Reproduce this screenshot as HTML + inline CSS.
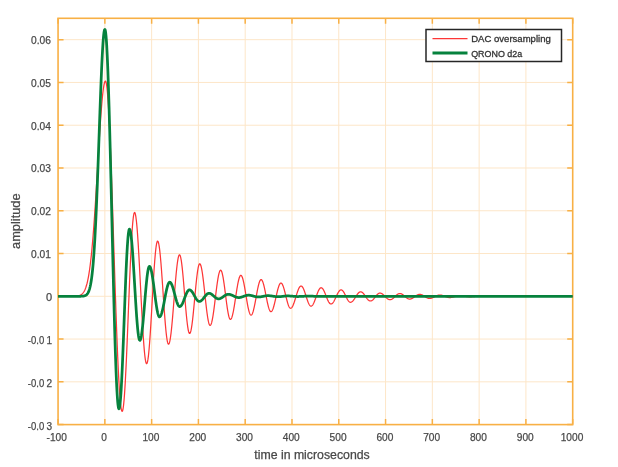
<!DOCTYPE html><html><head><meta charset="utf-8"><style>html,body{margin:0;padding:0;background:#fff;}svg{display:block;will-change:transform;}text{font-family:"Liberation Sans",sans-serif;fill:#404040;}.t text{stroke:#484848;stroke-width:0.25px;fill:#484848;}</style></head><body>
<svg width="618" height="467" viewBox="0 0 618 467">
<rect width="618" height="467" fill="#fff"/>
<path d="M104.85,18.30 V424.60 M151.63,18.30 V424.60 M198.42,18.30 V424.60 M245.20,18.30 V424.60 M291.99,18.30 V424.60 M338.77,18.30 V424.60 M385.56,18.30 V424.60 M432.34,18.30 V424.60 M479.13,18.30 V424.60 M525.91,18.30 V424.60 M58.06,381.83 H572.70 M58.06,339.06 H572.70 M58.06,296.29 H572.70 M58.06,253.53 H572.70 M58.06,210.76 H572.70 M58.06,167.99 H572.70 M58.06,125.22 H572.70 M58.06,82.45 H572.70 M58.06,39.68 H572.70" stroke="#fde6c8" stroke-width="1" fill="none"/>
<path d="M58.06,424.60 V419.10 M58.06,18.30 V23.80 M104.85,424.60 V419.10 M104.85,18.30 V23.80 M151.63,424.60 V419.10 M151.63,18.30 V23.80 M198.42,424.60 V419.10 M198.42,18.30 V23.80 M245.20,424.60 V419.10 M245.20,18.30 V23.80 M291.99,424.60 V419.10 M291.99,18.30 V23.80 M338.77,424.60 V419.10 M338.77,18.30 V23.80 M385.56,424.60 V419.10 M385.56,18.30 V23.80 M432.34,424.60 V419.10 M432.34,18.30 V23.80 M479.13,424.60 V419.10 M479.13,18.30 V23.80 M525.91,424.60 V419.10 M525.91,18.30 V23.80 M572.70,424.60 V419.10 M572.70,18.30 V23.80 M58.06,424.60 H63.56 M572.70,424.60 H567.20 M58.06,381.83 H63.56 M572.70,381.83 H567.20 M58.06,339.06 H63.56 M572.70,339.06 H567.20 M58.06,296.29 H63.56 M572.70,296.29 H567.20 M58.06,253.53 H63.56 M572.70,253.53 H567.20 M58.06,210.76 H63.56 M572.70,210.76 H567.20 M58.06,167.99 H63.56 M572.70,167.99 H567.20 M58.06,125.22 H63.56 M572.70,125.22 H567.20 M58.06,82.45 H63.56 M572.70,82.45 H567.20 M58.06,39.68 H63.56 M572.70,39.68 H567.20" stroke="#f8b045" stroke-width="1.5" fill="none"/>
<rect x="58.06" y="18.30" width="514.64" height="406.30" stroke="#f8b045" stroke-width="1.6" fill="none"/>
<path d="M58.06,296.29 L58.29,296.29 L58.53,296.29 L58.76,296.29 L59.00,296.29 L59.23,296.29 L59.46,296.29 L59.70,296.29 L59.93,296.29 L60.17,296.29 L60.40,296.29 L60.63,296.29 L60.87,296.29 L61.10,296.29 L61.33,296.29 L61.57,296.29 L61.80,296.29 L62.04,296.29 L62.27,296.29 L62.50,296.29 L62.74,296.29 L62.97,296.29 L63.21,296.29 L63.44,296.29 L63.67,296.29 L63.91,296.29 L64.14,296.29 L64.38,296.29 L64.61,296.29 L64.84,296.29 L65.08,296.29 L65.31,296.29 L65.55,296.29 L65.78,296.29 L66.01,296.29 L66.25,296.29 L66.48,296.29 L66.72,296.29 L66.95,296.29 L67.18,296.29 L67.42,296.29 L67.65,296.29 L67.88,296.29 L68.12,296.29 L68.35,296.29 L68.59,296.29 L68.82,296.29 L69.05,296.29 L69.29,296.29 L69.52,296.29 L69.76,296.29 L69.99,296.29 L70.22,296.29 L70.46,296.29 L70.69,296.29 L70.93,296.28 L71.16,296.28 L71.39,296.28 L71.63,296.28 L71.86,296.28 L72.10,296.27 L72.33,296.27 L72.56,296.27 L72.80,296.26 L73.03,296.26 L73.27,296.25 L73.50,296.25 L73.73,296.24 L73.97,296.24 L74.20,296.23 L74.43,296.22 L74.67,296.21 L74.90,296.20 L75.14,296.19 L75.37,296.18 L75.60,296.16 L75.84,296.15 L76.07,296.13 L76.31,296.11 L76.54,296.08 L76.77,296.06 L77.01,296.03 L77.24,296.00 L77.48,295.97 L77.71,295.93 L77.94,295.89 L78.18,295.84 L78.41,295.79 L78.65,295.74 L78.88,295.68 L79.11,295.61 L79.35,295.54 L79.58,295.46 L79.82,295.37 L80.05,295.27 L80.28,295.17 L80.52,295.05 L80.75,294.93 L80.98,294.79 L81.22,294.64 L81.45,294.48 L81.69,294.30 L81.92,294.11 L82.15,293.90 L82.39,293.68 L82.62,293.44 L82.86,293.17 L83.09,292.89 L83.32,292.58 L83.56,292.25 L83.79,291.90 L84.03,291.51 L84.26,291.10 L84.49,290.66 L84.73,290.18 L84.96,289.67 L85.20,289.13 L85.43,288.55 L85.66,287.93 L85.90,287.26 L86.13,286.55 L86.37,285.80 L86.60,285.00 L86.83,284.15 L87.07,283.25 L87.30,282.29 L87.53,281.27 L87.77,280.20 L88.00,279.06 L88.24,277.86 L88.47,276.60 L88.70,275.27 L88.94,273.87 L89.17,272.40 L89.41,270.85 L89.64,269.23 L89.87,267.53 L90.11,265.75 L90.34,263.89 L90.58,261.95 L90.81,259.93 L91.04,257.82 L91.28,255.63 L91.51,253.35 L91.75,250.99 L91.98,248.53 L92.21,245.99 L92.45,243.37 L92.68,240.65 L92.92,237.86 L93.15,234.97 L93.38,232.00 L93.62,228.95 L93.85,225.82 L94.08,222.61 L94.32,219.32 L94.55,215.96 L94.79,212.53 L95.02,209.03 L95.25,205.47 L95.49,201.85 L95.72,198.17 L95.96,194.45 L96.19,190.67 L96.42,186.86 L96.66,183.01 L96.89,179.13 L97.13,175.23 L97.36,171.31 L97.59,167.39 L97.83,163.46 L98.06,159.53 L98.30,155.62 L98.53,151.72 L98.76,147.86 L99.00,144.02 L99.23,140.23 L99.47,136.49 L99.70,132.81 L99.93,129.20 L100.17,125.66 L100.40,122.20 L100.63,118.84 L100.87,115.57 L101.10,112.41 L101.34,109.37 L101.57,106.45 L101.80,103.65 L102.04,101.00 L102.27,98.48 L102.51,96.12 L102.74,93.91 L102.97,91.86 L103.21,89.98 L103.44,88.27 L103.68,86.73 L103.91,85.38 L104.14,84.21 L104.38,83.22 L104.61,82.43 L104.85,81.83 L105.08,81.42 L105.31,81.20 L105.55,81.20 L105.78,81.48 L106.02,82.09 L106.25,83.01 L106.48,84.25 L106.72,85.81 L106.95,87.67 L107.18,89.84 L107.42,92.32 L107.65,95.09 L107.89,98.15 L108.12,101.51 L108.35,105.14 L108.59,109.04 L108.82,113.21 L109.06,117.64 L109.29,122.32 L109.52,127.23 L109.76,132.38 L109.99,137.75 L110.23,143.33 L110.46,149.10 L110.69,155.07 L110.93,161.21 L111.16,167.52 L111.40,173.97 L111.63,180.57 L111.86,187.30 L112.10,194.14 L112.33,201.08 L112.57,208.11 L112.80,215.21 L113.03,222.37 L113.27,229.58 L113.50,236.82 L113.73,244.08 L113.97,251.34 L114.20,258.59 L114.44,265.82 L114.67,273.01 L114.90,280.15 L115.14,287.23 L115.37,294.22 L115.61,301.12 L115.84,307.92 L116.07,314.59 L116.31,321.14 L116.54,327.54 L116.78,333.78 L117.01,339.85 L117.24,345.74 L117.48,351.44 L117.71,356.94 L117.95,362.22 L118.18,367.27 L118.41,372.09 L118.65,376.67 L118.88,381.00 L119.12,385.06 L119.35,388.86 L119.58,392.38 L119.82,395.62 L120.05,398.57 L120.28,401.22 L120.52,403.57 L120.75,405.62 L120.99,407.36 L121.22,408.79 L121.45,409.91 L121.69,410.70 L121.92,411.18 L122.16,411.34 L122.39,411.17 L122.62,410.64 L122.86,409.77 L123.09,408.56 L123.33,407.01 L123.56,405.12 L123.79,402.90 L124.03,400.37 L124.26,397.52 L124.50,394.38 L124.73,390.94 L124.96,387.23 L125.20,383.25 L125.43,379.02 L125.66,374.56 L125.90,369.87 L126.13,364.99 L126.37,359.91 L126.60,354.67 L126.83,349.28 L127.07,343.75 L127.30,338.12 L127.54,332.39 L127.77,326.59 L128.00,320.73 L128.24,314.85 L128.47,308.96 L128.71,303.08 L128.94,297.22 L129.17,291.42 L129.41,285.70 L129.64,280.06 L129.88,274.53 L130.11,269.14 L130.34,263.90 L130.58,258.82 L130.81,253.94 L131.05,249.25 L131.28,244.79 L131.51,240.56 L131.75,236.58 L131.98,232.87 L132.21,229.43 L132.45,226.29 L132.68,223.44 L132.92,220.91 L133.15,218.69 L133.38,216.80 L133.62,215.25 L133.85,214.04 L134.09,213.17 L134.32,212.64 L134.55,212.47 L134.79,212.61 L135.02,213.03 L135.26,213.73 L135.49,214.70 L135.72,215.94 L135.96,217.46 L136.19,219.23 L136.43,221.26 L136.66,223.54 L136.89,226.05 L137.13,228.80 L137.36,231.76 L137.60,234.94 L137.83,238.31 L138.06,241.86 L138.30,245.59 L138.53,249.47 L138.76,253.50 L139.00,257.65 L139.23,261.92 L139.47,266.28 L139.70,270.73 L139.93,275.24 L140.17,279.79 L140.40,284.38 L140.64,288.98 L140.87,293.58 L141.10,298.16 L141.34,302.70 L141.57,307.18 L141.81,311.60 L142.04,315.92 L142.27,320.15 L142.51,324.25 L142.74,328.22 L142.98,332.05 L143.21,335.71 L143.44,339.19 L143.68,342.48 L143.91,345.57 L144.15,348.45 L144.38,351.11 L144.61,353.53 L144.85,355.71 L145.08,357.63 L145.31,359.30 L145.55,360.71 L145.78,361.85 L146.02,362.71 L146.25,363.30 L146.48,363.60 L146.72,363.63 L146.95,363.39 L147.19,362.87 L147.42,362.08 L147.65,361.02 L147.89,359.71 L148.12,358.13 L148.36,356.31 L148.59,354.25 L148.82,351.95 L149.06,349.44 L149.29,346.71 L149.53,343.79 L149.76,340.68 L149.99,337.40 L150.23,333.96 L150.46,330.39 L150.70,326.68 L150.93,322.87 L151.16,318.97 L151.40,314.99 L151.63,310.96 L151.86,306.89 L152.10,302.80 L152.33,298.71 L152.57,294.63 L152.80,290.59 L153.03,286.60 L153.27,282.68 L153.50,278.85 L153.74,275.12 L153.97,271.52 L154.20,268.05 L154.44,264.74 L154.67,261.60 L154.91,258.64 L155.14,255.87 L155.37,253.31 L155.61,250.97 L155.84,248.86 L156.08,246.99 L156.31,245.37 L156.54,244.00 L156.78,242.89 L157.01,242.05 L157.25,241.47 L157.48,241.17 L157.71,241.14 L157.95,241.35 L158.18,241.80 L158.41,242.47 L158.65,243.37 L158.88,244.50 L159.12,245.85 L159.35,247.40 L159.58,249.17 L159.82,251.13 L160.05,253.28 L160.29,255.61 L160.52,258.11 L160.75,260.76 L160.99,263.56 L161.22,266.49 L161.46,269.54 L161.69,272.70 L161.92,275.94 L162.16,279.27 L162.39,282.65 L162.63,286.08 L162.86,289.53 L163.09,293.01 L163.33,296.48 L163.56,299.93 L163.80,303.35 L164.03,306.72 L164.26,310.03 L164.50,313.26 L164.73,316.40 L164.96,319.42 L165.20,322.33 L165.43,325.10 L165.67,327.72 L165.90,330.19 L166.13,332.48 L166.37,334.60 L166.60,336.52 L166.84,338.24 L167.07,339.76 L167.30,341.06 L167.54,342.14 L167.77,343.00 L168.01,343.63 L168.24,344.03 L168.47,344.19 L168.71,344.13 L168.94,343.87 L169.18,343.41 L169.41,342.76 L169.64,341.91 L169.88,340.88 L170.11,339.66 L170.35,338.26 L170.58,336.68 L170.81,334.94 L171.05,333.05 L171.28,331.00 L171.51,328.81 L171.75,326.49 L171.98,324.05 L172.22,321.50 L172.45,318.86 L172.68,316.12 L172.92,313.31 L173.15,310.44 L173.39,307.52 L173.62,304.57 L173.85,301.59 L174.09,298.61 L174.32,295.62 L174.56,292.66 L174.79,289.72 L175.02,286.83 L175.26,284.00 L175.49,281.23 L175.73,278.55 L175.96,275.96 L176.19,273.47 L176.43,271.11 L176.66,268.86 L176.90,266.76 L177.13,264.80 L177.36,263.00 L177.60,261.36 L177.83,259.89 L178.06,258.59 L178.30,257.48 L178.53,256.56 L178.77,255.83 L179.00,255.29 L179.23,254.95 L179.47,254.81 L179.70,254.88 L179.94,255.15 L180.17,255.62 L180.40,256.30 L180.64,257.18 L180.87,258.26 L181.11,259.52 L181.34,260.97 L181.57,262.60 L181.81,264.39 L182.04,266.33 L182.28,268.43 L182.51,270.66 L182.74,273.02 L182.98,275.48 L183.21,278.05 L183.45,280.70 L183.68,283.42 L183.91,286.20 L184.15,289.02 L184.38,291.87 L184.61,294.73 L184.85,297.59 L185.08,300.42 L185.32,303.23 L185.55,305.99 L185.78,308.68 L186.02,311.30 L186.25,313.83 L186.49,316.25 L186.72,318.56 L186.95,320.74 L187.19,322.78 L187.42,324.66 L187.66,326.39 L187.89,327.94 L188.12,329.32 L188.36,330.51 L188.59,331.51 L188.83,332.31 L189.06,332.91 L189.29,333.30 L189.53,333.49 L189.76,333.47 L189.99,333.27 L190.23,332.88 L190.46,332.32 L190.70,331.57 L190.93,330.65 L191.16,329.56 L191.40,328.31 L191.63,326.91 L191.87,325.35 L192.10,323.65 L192.33,321.82 L192.57,319.87 L192.80,317.80 L193.04,315.63 L193.27,313.38 L193.50,311.04 L193.74,308.64 L193.97,306.19 L194.21,303.70 L194.44,301.18 L194.67,298.65 L194.91,296.11 L195.14,293.60 L195.38,291.10 L195.61,288.65 L195.84,286.25 L196.08,283.92 L196.31,281.66 L196.54,279.49 L196.78,277.43 L197.01,275.47 L197.25,273.64 L197.48,271.95 L197.71,270.39 L197.95,268.98 L198.18,267.73 L198.42,266.64 L198.65,265.72 L198.88,264.98 L199.12,264.41 L199.35,264.03 L199.59,263.82 L199.82,263.80 L200.05,263.94 L200.29,264.23 L200.52,264.68 L200.76,265.27 L200.99,266.01 L201.22,266.89 L201.46,267.92 L201.69,269.07 L201.93,270.35 L202.16,271.76 L202.39,273.28 L202.63,274.90 L202.86,276.63 L203.09,278.44 L203.33,280.33 L203.56,282.30 L203.80,284.33 L204.03,286.40 L204.26,288.52 L204.50,290.67 L204.73,292.84 L204.97,295.02 L205.20,297.20 L205.43,299.36 L205.67,301.50 L205.90,303.60 L206.14,305.66 L206.37,307.66 L206.60,309.60 L206.84,311.46 L207.07,313.24 L207.31,314.93 L207.54,316.51 L207.77,317.99 L208.01,319.34 L208.24,320.57 L208.48,321.68 L208.71,322.64 L208.94,323.47 L209.18,324.15 L209.41,324.69 L209.64,325.07 L209.88,325.30 L210.11,325.38 L210.35,325.31 L210.58,325.11 L210.81,324.77 L211.05,324.31 L211.28,323.71 L211.52,322.99 L211.75,322.15 L211.98,321.19 L212.22,320.11 L212.45,318.92 L212.69,317.64 L212.92,316.25 L213.15,314.78 L213.39,313.22 L213.62,311.58 L213.86,309.88 L214.09,308.13 L214.32,306.32 L214.56,304.47 L214.79,302.58 L215.03,300.68 L215.26,298.75 L215.49,296.83 L215.73,294.91 L215.96,293.00 L216.19,291.12 L216.43,289.27 L216.66,287.46 L216.90,285.70 L217.13,284.00 L217.36,282.37 L217.60,280.81 L217.83,279.33 L218.07,277.95 L218.30,276.66 L218.53,275.47 L218.77,274.40 L219.00,273.43 L219.24,272.59 L219.47,271.87 L219.70,271.27 L219.94,270.81 L220.17,270.47 L220.41,270.27 L220.64,270.21 L220.87,270.28 L221.11,270.48 L221.34,270.83 L221.58,271.31 L221.81,271.92 L222.04,272.66 L222.28,273.53 L222.51,274.52 L222.74,275.62 L222.98,276.83 L223.21,278.14 L223.45,279.55 L223.68,281.04 L223.91,282.61 L224.15,284.25 L224.38,285.94 L224.62,287.69 L224.85,289.48 L225.08,291.30 L225.32,293.14 L225.55,294.98 L225.79,296.83 L226.02,298.66 L226.25,300.48 L226.49,302.26 L226.72,303.99 L226.96,305.68 L227.19,307.31 L227.42,308.86 L227.66,310.34 L227.89,311.72 L228.13,313.02 L228.36,314.20 L228.59,315.28 L228.83,316.25 L229.06,317.09 L229.29,317.81 L229.53,318.39 L229.76,318.85 L230.00,319.16 L230.23,319.35 L230.46,319.39 L230.70,319.31 L230.93,319.13 L231.17,318.83 L231.40,318.43 L231.63,317.93 L231.87,317.32 L232.10,316.62 L232.34,315.82 L232.57,314.92 L232.80,313.95 L233.04,312.88 L233.27,311.75 L233.51,310.54 L233.74,309.26 L233.97,307.93 L234.21,306.54 L234.44,305.11 L234.68,303.64 L234.91,302.14 L235.14,300.61 L235.38,299.07 L235.61,297.52 L235.84,295.97 L236.08,294.42 L236.31,292.90 L236.55,291.39 L236.78,289.91 L237.01,288.47 L237.25,287.08 L237.48,285.73 L237.72,284.44 L237.95,283.22 L238.18,282.07 L238.42,280.99 L238.65,279.99 L238.89,279.08 L239.12,278.26 L239.35,277.54 L239.59,276.91 L239.82,276.39 L240.06,275.97 L240.29,275.65 L240.52,275.45 L240.76,275.35 L240.99,275.36 L241.23,275.47 L241.46,275.69 L241.69,276.00 L241.93,276.42 L242.16,276.94 L242.39,277.54 L242.63,278.25 L242.86,279.04 L243.10,279.91 L243.33,280.86 L243.56,281.89 L243.80,282.99 L244.03,284.15 L244.27,285.36 L244.50,286.63 L244.73,287.95 L244.97,289.30 L245.20,290.68 L245.44,292.09 L245.67,293.51 L245.90,294.94 L246.14,296.37 L246.37,297.80 L246.61,299.21 L246.84,300.60 L247.07,301.97 L247.31,303.30 L247.54,304.58 L247.78,305.82 L248.01,307.01 L248.24,308.13 L248.48,309.19 L248.71,310.17 L248.94,311.08 L249.18,311.90 L249.41,312.64 L249.65,313.28 L249.88,313.84 L250.11,314.29 L250.35,314.65 L250.58,314.91 L250.82,315.06 L251.05,315.11 L251.28,315.07 L251.52,314.92 L251.75,314.69 L251.99,314.36 L252.22,313.94 L252.45,313.43 L252.69,312.84 L252.92,312.17 L253.16,311.41 L253.39,310.58 L253.62,309.68 L253.86,308.72 L254.09,307.69 L254.32,306.61 L254.56,305.48 L254.79,304.31 L255.03,303.09 L255.26,301.85 L255.49,300.59 L255.73,299.31 L255.96,298.01 L256.20,296.72 L256.43,295.42 L256.66,294.14 L256.90,292.87 L257.13,291.63 L257.37,290.42 L257.60,289.25 L257.83,288.12 L258.07,287.04 L258.30,286.01 L258.54,285.04 L258.77,284.15 L259.00,283.32 L259.24,282.56 L259.47,281.89 L259.71,281.29 L259.94,280.79 L260.17,280.37 L260.41,280.04 L260.64,279.80 L260.87,279.66 L261.11,279.62 L261.34,279.66 L261.58,279.79 L261.81,280.02 L262.04,280.33 L262.28,280.72 L262.51,281.20 L262.75,281.76 L262.98,282.40 L263.21,283.11 L263.45,283.90 L263.68,284.74 L263.92,285.65 L264.15,286.62 L264.38,287.63 L264.62,288.69 L264.85,289.79 L265.09,290.93 L265.32,292.08 L265.55,293.26 L265.79,294.45 L266.02,295.65 L266.26,296.85 L266.49,298.04 L266.72,299.22 L266.96,300.38 L267.19,301.51 L267.42,302.61 L267.66,303.67 L267.89,304.69 L268.13,305.65 L268.36,306.56 L268.59,307.41 L268.83,308.19 L269.06,308.90 L269.30,309.54 L269.53,310.10 L269.76,310.58 L270.00,310.98 L270.23,311.29 L270.47,311.51 L270.70,311.65 L270.93,311.69 L271.17,311.65 L271.40,311.54 L271.64,311.35 L271.87,311.08 L272.10,310.74 L272.34,310.32 L272.57,309.84 L272.81,309.29 L273.04,308.68 L273.27,308.00 L273.51,307.27 L273.74,306.48 L273.97,305.65 L274.21,304.77 L274.44,303.85 L274.68,302.90 L274.91,301.91 L275.14,300.90 L275.38,299.87 L275.61,298.83 L275.85,297.78 L276.08,296.73 L276.31,295.69 L276.55,294.65 L276.78,293.62 L277.02,292.62 L277.25,291.64 L277.48,290.69 L277.72,289.78 L277.95,288.91 L278.19,288.08 L278.42,287.31 L278.65,286.59 L278.89,285.92 L279.12,285.32 L279.36,284.78 L279.59,284.32 L279.82,283.92 L280.06,283.59 L280.29,283.34 L280.52,283.16 L280.76,283.06 L280.99,283.04 L281.23,283.09 L281.46,283.21 L281.69,283.41 L281.93,283.68 L282.16,284.02 L282.40,284.42 L282.63,284.89 L282.86,285.42 L283.10,286.02 L283.33,286.66 L283.57,287.36 L283.80,288.11 L284.03,288.91 L284.27,289.74 L284.50,290.60 L284.74,291.50 L284.97,292.42 L285.20,293.36 L285.44,294.31 L285.67,295.27 L285.91,296.23 L286.14,297.19 L286.37,298.14 L286.61,299.07 L286.84,299.99 L287.07,300.88 L287.31,301.74 L287.54,302.56 L287.78,303.35 L288.01,304.09 L288.24,304.78 L288.48,305.41 L288.71,305.99 L288.95,306.51 L289.18,306.97 L289.41,307.36 L289.65,307.69 L289.88,307.94 L290.12,308.12 L290.35,308.23 L290.58,308.27 L290.82,308.24 L291.05,308.16 L291.29,308.02 L291.52,307.84 L291.75,307.59 L291.99,307.30 L292.22,306.96 L292.46,306.57 L292.69,306.13 L292.92,305.65 L293.16,305.12 L293.39,304.56 L293.62,303.96 L293.86,303.33 L294.09,302.66 L294.33,301.97 L294.56,301.26 L294.79,300.53 L295.03,299.78 L295.26,299.01 L295.50,298.24 L295.73,297.46 L295.96,296.68 L296.20,295.91 L296.43,295.13 L296.67,294.37 L296.90,293.63 L297.13,292.89 L297.37,292.19 L297.60,291.50 L297.84,290.84 L298.07,290.22 L298.30,289.62 L298.54,289.07 L298.77,288.55 L299.01,288.08 L299.24,287.65 L299.47,287.27 L299.71,286.94 L299.94,286.65 L300.17,286.42 L300.41,286.24 L300.64,286.12 L300.88,286.05 L301.11,286.03 L301.34,286.07 L301.58,286.16 L301.81,286.31 L302.05,286.51 L302.28,286.76 L302.51,287.06 L302.75,287.41 L302.98,287.81 L303.22,288.26 L303.45,288.74 L303.68,289.27 L303.92,289.83 L304.15,290.43 L304.39,291.06 L304.62,291.71 L304.85,292.39 L305.09,293.09 L305.32,293.80 L305.56,294.53 L305.79,295.27 L306.02,296.01 L306.26,296.75 L306.49,297.48 L306.72,298.21 L306.96,298.93 L307.19,299.63 L307.43,300.32 L307.66,300.98 L307.89,301.61 L308.13,302.21 L308.36,302.78 L308.60,303.32 L308.83,303.81 L309.06,304.26 L309.30,304.67 L309.53,305.03 L309.77,305.35 L310.00,305.61 L310.23,305.82 L310.47,305.97 L310.70,306.08 L310.94,306.13 L311.17,306.12 L311.40,306.07 L311.64,305.97 L311.87,305.82 L312.11,305.62 L312.34,305.38 L312.57,305.09 L312.81,304.76 L313.04,304.39 L313.27,303.98 L313.51,303.53 L313.74,303.05 L313.98,302.53 L314.21,301.99 L314.44,301.42 L314.68,300.82 L314.91,300.21 L315.15,299.57 L315.38,298.93 L315.61,298.27 L315.85,297.60 L316.08,296.94 L316.32,296.27 L316.55,295.60 L316.78,294.95 L317.02,294.30 L317.25,293.67 L317.49,293.05 L317.72,292.45 L317.95,291.88 L318.19,291.34 L318.42,290.82 L318.65,290.34 L318.89,289.89 L319.12,289.48 L319.36,289.11 L319.59,288.78 L319.82,288.49 L320.06,288.25 L320.29,288.05 L320.53,287.90 L320.76,287.80 L320.99,287.75 L321.23,287.74 L321.46,287.79 L321.70,287.87 L321.93,288.00 L322.16,288.18 L322.40,288.39 L322.63,288.65 L322.87,288.95 L323.10,289.29 L323.33,289.67 L323.57,290.08 L323.80,290.52 L324.04,290.99 L324.27,291.49 L324.50,292.02 L324.74,292.56 L324.97,293.13 L325.20,293.71 L325.44,294.30 L325.67,294.90 L325.91,295.50 L326.14,296.11 L326.37,296.72 L326.61,297.32 L326.84,297.91 L327.08,298.49 L327.31,299.06 L327.54,299.61 L327.78,300.14 L328.01,300.64 L328.25,301.12 L328.48,301.57 L328.71,301.99 L328.95,302.37 L329.18,302.72 L329.42,303.02 L329.65,303.29 L329.88,303.52 L330.12,303.70 L330.35,303.84 L330.59,303.93 L330.82,303.98 L331.05,303.99 L331.29,303.96 L331.52,303.89 L331.75,303.78 L331.99,303.64 L332.22,303.46 L332.46,303.25 L332.69,303.00 L332.92,302.73 L333.16,302.42 L333.39,302.09 L333.63,301.72 L333.86,301.34 L334.09,300.93 L334.33,300.49 L334.56,300.04 L334.80,299.58 L335.03,299.10 L335.26,298.61 L335.50,298.11 L335.73,297.60 L335.97,297.09 L336.20,296.58 L336.43,296.07 L336.67,295.57 L336.90,295.07 L337.14,294.58 L337.37,294.11 L337.60,293.65 L337.84,293.20 L338.07,292.78 L338.30,292.38 L338.54,292.00 L338.77,291.65 L339.01,291.32 L339.24,291.03 L339.47,290.77 L339.71,290.53 L339.94,290.34 L340.18,290.17 L340.41,290.05 L340.64,289.95 L340.88,289.90 L341.11,289.88 L341.35,289.90 L341.58,289.96 L341.81,290.05 L342.05,290.18 L342.28,290.35 L342.52,290.56 L342.75,290.79 L342.98,291.06 L343.22,291.37 L343.45,291.70 L343.69,292.05 L343.92,292.44 L344.15,292.84 L344.39,293.27 L344.62,293.71 L344.85,294.16 L345.09,294.63 L345.32,295.11 L345.56,295.59 L345.79,296.08 L346.02,296.57 L346.26,297.05 L346.49,297.53 L346.73,298.00 L346.96,298.45 L347.19,298.90 L347.43,299.32 L347.66,299.73 L347.90,300.11 L348.13,300.47 L348.36,300.80 L348.60,301.10 L348.83,301.37 L349.07,301.61 L349.30,301.81 L349.53,301.98 L349.77,302.11 L350.00,302.21 L350.24,302.26 L350.47,302.28 L350.70,302.27 L350.94,302.23 L351.17,302.16 L351.40,302.06 L351.64,301.94 L351.87,301.80 L352.11,301.62 L352.34,301.43 L352.57,301.21 L352.81,300.97 L353.04,300.71 L353.28,300.43 L353.51,300.13 L353.74,299.81 L353.98,299.49 L354.21,299.14 L354.45,298.79 L354.68,298.43 L354.91,298.06 L355.15,297.69 L355.38,297.31 L355.62,296.93 L355.85,296.55 L356.08,296.17 L356.32,295.80 L356.55,295.44 L356.79,295.08 L357.02,294.74 L357.25,294.40 L357.49,294.08 L357.72,293.78 L357.95,293.49 L358.19,293.22 L358.42,292.97 L358.66,292.74 L358.89,292.54 L359.12,292.36 L359.36,292.20 L359.59,292.07 L359.83,291.96 L360.06,291.88 L360.29,291.83 L360.53,291.81 L360.76,291.81 L361.00,291.84 L361.23,291.89 L361.46,291.97 L361.70,292.08 L361.93,292.21 L362.17,292.36 L362.40,292.53 L362.63,292.73 L362.87,292.95 L363.10,293.19 L363.34,293.44 L363.57,293.72 L363.80,294.00 L364.04,294.31 L364.27,294.62 L364.50,294.94 L364.74,295.27 L364.97,295.61 L365.21,295.95 L365.44,296.30 L365.67,296.64 L365.91,296.99 L366.14,297.33 L366.38,297.66 L366.61,297.99 L366.84,298.31 L367.08,298.62 L367.31,298.92 L367.55,299.20 L367.78,299.46 L368.01,299.71 L368.25,299.94 L368.48,300.15 L368.72,300.34 L368.95,300.51 L369.18,300.65 L369.42,300.77 L369.65,300.87 L369.89,300.94 L370.12,300.98 L370.35,301.00 L370.59,300.99 L370.82,300.96 L371.05,300.91 L371.29,300.83 L371.52,300.73 L371.76,300.61 L371.99,300.47 L372.22,300.31 L372.46,300.13 L372.69,299.93 L372.93,299.71 L373.16,299.48 L373.39,299.23 L373.63,298.97 L373.86,298.70 L374.10,298.42 L374.33,298.13 L374.56,297.83 L374.80,297.53 L375.03,297.23 L375.27,296.92 L375.50,296.62 L375.73,296.32 L375.97,296.02 L376.20,295.73 L376.44,295.45 L376.67,295.17 L376.90,294.91 L377.14,294.66 L377.37,294.42 L377.60,294.20 L377.84,294.00 L378.07,293.81 L378.31,293.65 L378.54,293.50 L378.77,293.38 L379.01,293.27 L379.24,293.19 L379.48,293.13 L379.71,293.10 L379.94,293.09 L380.18,293.10 L380.41,293.12 L380.65,293.17 L380.88,293.23 L381.11,293.30 L381.35,293.40 L381.58,293.51 L381.82,293.63 L382.05,293.77 L382.28,293.93 L382.52,294.09 L382.75,294.27 L382.98,294.46 L383.22,294.66 L383.45,294.87 L383.69,295.09 L383.92,295.31 L384.15,295.54 L384.39,295.78 L384.62,296.02 L384.86,296.26 L385.09,296.50 L385.32,296.74 L385.56,296.98 L385.79,297.21 L386.03,297.44 L386.26,297.67 L386.49,297.89 L386.73,298.10 L386.96,298.30 L387.20,298.50 L387.43,298.68 L387.66,298.85 L387.90,299.00 L388.13,299.14 L388.37,299.27 L388.60,299.38 L388.83,299.48 L389.07,299.56 L389.30,299.63 L389.53,299.67 L389.77,299.70 L390.00,299.72 L390.24,299.71 L390.47,299.69 L390.70,299.65 L390.94,299.59 L391.17,299.52 L391.41,299.43 L391.64,299.32 L391.87,299.20 L392.11,299.06 L392.34,298.91 L392.58,298.75 L392.81,298.57 L393.04,298.39 L393.28,298.19 L393.51,297.99 L393.75,297.78 L393.98,297.56 L394.21,297.33 L394.45,297.10 L394.68,296.87 L394.92,296.64 L395.15,296.41 L395.38,296.17 L395.62,295.95 L395.85,295.72 L396.08,295.50 L396.32,295.29 L396.55,295.08 L396.79,294.88 L397.02,294.69 L397.25,294.52 L397.49,294.35 L397.72,294.20 L397.96,294.06 L398.19,293.93 L398.42,293.82 L398.66,293.73 L398.89,293.65 L399.13,293.59 L399.36,293.55 L399.59,293.52 L399.83,293.51 L400.06,293.52 L400.30,293.55 L400.53,293.58 L400.76,293.64 L401.00,293.71 L401.23,293.79 L401.47,293.89 L401.70,294.00 L401.93,294.12 L402.17,294.26 L402.40,294.40 L402.63,294.56 L402.87,294.73 L403.10,294.90 L403.34,295.09 L403.57,295.28 L403.80,295.48 L404.04,295.68 L404.27,295.88 L404.51,296.09 L404.74,296.29 L404.97,296.50 L405.21,296.71 L405.44,296.91 L405.68,297.11 L405.91,297.31 L406.14,297.50 L406.38,297.68 L406.61,297.86 L406.85,298.03 L407.08,298.19 L407.31,298.33 L407.55,298.47 L407.78,298.59 L408.02,298.70 L408.25,298.80 L408.48,298.88 L408.72,298.95 L408.95,299.00 L409.18,299.04 L409.42,299.07 L409.65,299.07 L409.89,299.07 L410.12,299.05 L410.35,299.02 L410.59,298.97 L410.82,298.92 L411.06,298.85 L411.29,298.77 L411.52,298.68 L411.76,298.58 L411.99,298.47 L412.23,298.36 L412.46,298.23 L412.69,298.09 L412.93,297.95 L413.16,297.80 L413.40,297.64 L413.63,297.48 L413.86,297.32 L414.10,297.15 L414.33,296.98 L414.57,296.81 L414.80,296.64 L415.03,296.47 L415.27,296.30 L415.50,296.13 L415.73,295.96 L415.97,295.80 L416.20,295.65 L416.44,295.50 L416.67,295.35 L416.90,295.22 L417.14,295.09 L417.37,294.97 L417.61,294.86 L417.84,294.76 L418.07,294.67 L418.31,294.59 L418.54,294.53 L418.78,294.47 L419.01,294.43 L419.24,294.40 L419.48,294.38 L419.71,294.37 L419.95,294.38 L420.18,294.39 L420.41,294.42 L420.65,294.46 L420.88,294.51 L421.12,294.57 L421.35,294.64 L421.58,294.72 L421.82,294.81 L422.05,294.91 L422.28,295.02 L422.52,295.14 L422.75,295.26 L422.99,295.39 L423.22,295.52 L423.45,295.66 L423.69,295.80 L423.92,295.95 L424.16,296.10 L424.39,296.25 L424.62,296.40 L424.86,296.55 L425.09,296.70 L425.33,296.85 L425.56,297.00 L425.79,297.14 L426.03,297.28 L426.26,297.42 L426.50,297.55 L426.73,297.67 L426.96,297.78 L427.20,297.89 L427.43,297.99 L427.67,298.08 L427.90,298.16 L428.13,298.23 L428.37,298.29 L428.60,298.34 L428.83,298.38 L429.07,298.41 L429.30,298.43 L429.54,298.43 L429.77,298.43 L430.00,298.42 L430.24,298.39 L430.47,298.36 L430.71,298.33 L430.94,298.28 L431.17,298.22 L431.41,298.16 L431.64,298.09 L431.88,298.02 L432.11,297.93 L432.34,297.84 L432.58,297.75 L432.81,297.65 L433.05,297.54 L433.28,297.43 L433.51,297.32 L433.75,297.20 L433.98,297.09 L434.22,296.97 L434.45,296.84 L434.68,296.72 L434.92,296.60 L435.15,296.48 L435.38,296.36 L435.62,296.24 L435.85,296.12 L436.09,296.01 L436.32,295.90 L436.55,295.80 L436.79,295.70 L437.02,295.60 L437.26,295.51 L437.49,295.43 L437.72,295.35 L437.96,295.28 L438.19,295.22 L438.43,295.17 L438.66,295.12 L438.89,295.08 L439.13,295.05 L439.36,295.03 L439.60,295.02 L439.83,295.01 L440.06,295.02 L440.30,295.03 L440.53,295.04 L440.77,295.07 L441.00,295.10 L441.23,295.14 L441.47,295.18 L441.70,295.23 L441.93,295.29 L442.17,295.35 L442.40,295.42 L442.64,295.49 L442.87,295.57 L443.10,295.65 L443.34,295.74 L443.57,295.83 L443.81,295.92 L444.04,296.01 L444.27,296.10 L444.51,296.20 L444.74,296.29 L444.98,296.39 L445.21,296.49 L445.44,296.58 L445.68,296.67 L445.91,296.76 L446.15,296.85 L446.38,296.94 L446.61,297.02 L446.85,297.09 L447.08,297.17 L447.31,297.24 L447.55,297.30 L447.78,297.35 L448.02,297.41 L448.25,297.45 L448.48,297.49 L448.72,297.52 L448.95,297.55 L449.19,297.56 L449.42,297.57 L449.65,297.58 L449.89,297.58 L450.12,297.57 L450.36,297.56 L450.59,297.54 L450.82,297.52 L451.06,297.49 L451.29,297.46 L451.53,297.43 L451.76,297.39 L451.99,297.34 L452.23,297.30 L452.46,297.25 L452.70,297.19 L452.93,297.14 L453.16,297.08 L453.40,297.02 L453.63,296.95 L453.86,296.89 L454.10,296.82 L454.33,296.75 L454.57,296.68 L454.80,296.62 L455.03,296.55 L455.27,296.48 L455.50,296.41 L455.74,296.34 L455.97,296.28 L456.20,296.22 L456.44,296.15 L456.67,296.10 L456.91,296.04 L457.14,295.99 L457.37,295.94 L457.61,295.89 L457.84,295.85 L458.08,295.81 L458.31,295.77 L458.54,295.74 L458.78,295.71 L459.01,295.69 L459.25,295.68 L459.48,295.66 L459.71,295.66 L459.95,295.65 L460.18,295.65 L460.41,295.66 L460.65,295.67 L460.88,295.68 L461.12,295.69 L461.35,295.71 L461.58,295.73 L461.82,295.75 L462.05,295.78 L462.29,295.81 L462.52,295.84 L462.75,295.87 L462.99,295.91 L463.22,295.94 L463.46,295.98 L463.69,296.02 L463.92,296.06 L464.16,296.10 L464.39,296.14 L464.63,296.19 L464.86,296.23 L465.09,296.27 L465.33,296.32 L465.56,296.36 L465.80,296.40 L466.03,296.44 L466.26,296.48 L466.50,296.52 L466.73,296.56 L466.96,296.59 L467.20,296.62 L467.43,296.65 L467.67,296.68 L467.90,296.71 L468.13,296.73 L468.37,296.75 L468.60,296.77 L468.84,296.78 L469.07,296.79 L469.30,296.80 L469.54,296.81 L469.77,296.81 L470.01,296.81 L470.24,296.80 L470.47,296.80 L470.71,296.80 L470.94,296.79 L471.18,296.78 L471.41,296.77 L471.64,296.76 L471.88,296.75 L472.11,296.73 L472.35,296.72 L472.58,296.70 L472.81,296.69 L473.05,296.67 L473.28,296.65 L473.51,296.63 L473.75,296.61 L473.98,296.59 L474.22,296.57 L474.45,296.55 L474.68,296.53 L474.92,296.51 L475.15,296.49 L475.39,296.47 L475.62,296.45 L475.85,296.43 L476.09,296.42 L476.32,296.40 L476.56,296.38 L476.79,296.37 L477.02,296.36 L477.26,296.34 L477.49,296.33 L477.73,296.32 L477.96,296.31 L478.19,296.31 L478.43,296.30 L478.66,296.30 L478.90,296.30 L479.13,296.29 L479.36,296.29 L479.60,296.29 L479.83,296.29 L480.06,296.29 L480.30,296.29 L480.53,296.29 L480.77,296.29 L481.00,296.29 L481.23,296.29 L481.47,296.29 L481.70,296.29 L481.94,296.29 L482.17,296.29 L482.40,296.29 L482.64,296.29 L482.87,296.29 L483.11,296.29 L483.34,296.29 L483.57,296.29 L483.81,296.29 L484.04,296.29 L484.28,296.29 L484.51,296.29 L484.74,296.29 L484.98,296.29 L485.21,296.29 L485.45,296.29 L485.68,296.29 L485.91,296.29 L486.15,296.29 L486.38,296.29 L486.61,296.29 L486.85,296.29 L487.08,296.29 L487.32,296.29 L487.55,296.29 L487.78,296.29 L488.02,296.29 L488.25,296.29 L488.49,296.29 L488.72,296.29 L488.95,296.29 L489.19,296.29 L489.42,296.29 L489.66,296.29 L489.89,296.29 L490.12,296.29 L490.36,296.29 L490.59,296.29 L490.83,296.29 L491.06,296.29 L491.29,296.29 L491.53,296.29 L491.76,296.29 L492.00,296.29 L492.23,296.29 L492.46,296.29 L492.70,296.29 L492.93,296.29 L493.16,296.29 L493.40,296.29 L493.63,296.29 L493.87,296.29 L494.10,296.29 L494.33,296.29 L494.57,296.29 L494.80,296.29 L495.04,296.29 L495.27,296.29 L495.50,296.29 L495.74,296.29 L495.97,296.29 L496.21,296.29 L496.44,296.29 L496.67,296.29 L496.91,296.29 L497.14,296.29 L497.38,296.29 L497.61,296.29 L497.84,296.29 L498.08,296.29 L498.31,296.29 L498.55,296.29 L498.78,296.29 L499.01,296.29 L499.25,296.29 L499.48,296.29 L499.71,296.29 L499.95,296.29 L500.18,296.29 L500.42,296.29 L500.65,296.29 L500.88,296.29 L501.12,296.29 L501.35,296.29 L501.59,296.29 L501.82,296.29 L502.05,296.29 L502.29,296.29 L502.52,296.29 L502.76,296.29 L502.99,296.29 L503.22,296.29 L503.46,296.29 L503.69,296.29 L503.93,296.29 L504.16,296.29 L504.39,296.29 L504.63,296.29 L504.86,296.29 L505.10,296.29 L505.33,296.29 L505.56,296.29 L505.80,296.29 L506.03,296.29 L506.26,296.29 L506.50,296.29 L506.73,296.29 L506.97,296.29 L507.20,296.29 L507.43,296.29 L507.67,296.29 L507.90,296.29 L508.14,296.29 L508.37,296.29 L508.60,296.29 L508.84,296.29 L509.07,296.29 L509.31,296.29 L509.54,296.29 L509.77,296.29 L510.01,296.29 L510.24,296.29 L510.48,296.29 L510.71,296.29 L510.94,296.29 L511.18,296.29 L511.41,296.29 L511.64,296.29 L511.88,296.29 L512.11,296.29 L512.35,296.29 L512.58,296.29 L512.81,296.29 L513.05,296.29 L513.28,296.29 L513.52,296.29 L513.75,296.29 L513.98,296.29 L514.22,296.29 L514.45,296.29 L514.69,296.29 L514.92,296.29 L515.15,296.29 L515.39,296.29 L515.62,296.29 L515.86,296.29 L516.09,296.29 L516.32,296.29 L516.56,296.29 L516.79,296.29 L517.03,296.29 L517.26,296.29 L517.49,296.29 L517.73,296.29 L517.96,296.29 L518.19,296.29 L518.43,296.29 L518.66,296.29 L518.90,296.29 L519.13,296.29 L519.36,296.29 L519.60,296.29 L519.83,296.29 L520.07,296.29 L520.30,296.29 L520.53,296.29 L520.77,296.29 L521.00,296.29 L521.24,296.29 L521.47,296.29 L521.70,296.29 L521.94,296.29 L522.17,296.29 L522.41,296.29 L522.64,296.29 L522.87,296.29 L523.11,296.29 L523.34,296.29 L523.58,296.29 L523.81,296.29 L524.04,296.29 L524.28,296.29 L524.51,296.29 L524.74,296.29 L524.98,296.29 L525.21,296.29 L525.45,296.29 L525.68,296.29 L525.91,296.29 L526.15,296.29 L526.38,296.29 L526.62,296.29 L526.85,296.29 L527.08,296.29 L527.32,296.29 L527.55,296.29 L527.79,296.29 L528.02,296.29 L528.25,296.29 L528.49,296.29 L528.72,296.29 L528.96,296.29 L529.19,296.29 L529.42,296.29 L529.66,296.29 L529.89,296.29 L530.13,296.29 L530.36,296.29 L530.59,296.29 L530.83,296.29 L531.06,296.29 L531.29,296.29 L531.53,296.29 L531.76,296.29 L532.00,296.29 L532.23,296.29 L532.46,296.29 L532.70,296.29 L532.93,296.29 L533.17,296.29 L533.40,296.29 L533.63,296.29 L533.87,296.29 L534.10,296.29 L534.34,296.29 L534.57,296.29 L534.80,296.29 L535.04,296.29 L535.27,296.29 L535.51,296.29 L535.74,296.29 L535.97,296.29 L536.21,296.29 L536.44,296.29 L536.68,296.29 L536.91,296.29 L537.14,296.29 L537.38,296.29 L537.61,296.29 L537.84,296.29 L538.08,296.29 L538.31,296.29 L538.55,296.29 L538.78,296.29 L539.01,296.29 L539.25,296.29 L539.48,296.29 L539.72,296.29 L539.95,296.29 L540.18,296.29 L540.42,296.29 L540.65,296.29 L540.89,296.29 L541.12,296.29 L541.35,296.29 L541.59,296.29 L541.82,296.29 L542.06,296.29 L542.29,296.29 L542.52,296.29 L542.76,296.29 L542.99,296.29 L543.23,296.29 L543.46,296.29 L543.69,296.29 L543.93,296.29 L544.16,296.29 L544.39,296.29 L544.63,296.29 L544.86,296.29 L545.10,296.29 L545.33,296.29 L545.56,296.29 L545.80,296.29 L546.03,296.29 L546.27,296.29 L546.50,296.29 L546.73,296.29 L546.97,296.29 L547.20,296.29 L547.44,296.29 L547.67,296.29 L547.90,296.29 L548.14,296.29 L548.37,296.29 L548.61,296.29 L548.84,296.29 L549.07,296.29 L549.31,296.29 L549.54,296.29 L549.78,296.29 L550.01,296.29 L550.24,296.29 L550.48,296.29 L550.71,296.29 L550.94,296.29 L551.18,296.29 L551.41,296.29 L551.65,296.29 L551.88,296.29 L552.11,296.29 L552.35,296.29 L552.58,296.29 L552.82,296.29 L553.05,296.29 L553.28,296.29 L553.52,296.29 L553.75,296.29 L553.99,296.29 L554.22,296.29 L554.45,296.29 L554.69,296.29 L554.92,296.29 L555.16,296.29 L555.39,296.29 L555.62,296.29 L555.86,296.29 L556.09,296.29 L556.33,296.29 L556.56,296.29 L556.79,296.29 L557.03,296.29 L557.26,296.29 L557.49,296.29 L557.73,296.29 L557.96,296.29 L558.20,296.29 L558.43,296.29 L558.66,296.29 L558.90,296.29 L559.13,296.29 L559.37,296.29 L559.60,296.29 L559.83,296.29 L560.07,296.29 L560.30,296.29 L560.54,296.29 L560.77,296.29 L561.00,296.29 L561.24,296.29 L561.47,296.29 L561.71,296.29 L561.94,296.29 L562.17,296.29 L562.41,296.29 L562.64,296.29 L562.88,296.29 L563.11,296.29 L563.34,296.29 L563.58,296.29 L563.81,296.29 L564.04,296.29 L564.28,296.29 L564.51,296.29 L564.75,296.29 L564.98,296.29 L565.21,296.29 L565.45,296.29 L565.68,296.29 L565.92,296.29 L566.15,296.29 L566.38,296.29 L566.62,296.29 L566.85,296.29 L567.09,296.29 L567.32,296.29 L567.55,296.29 L567.79,296.29 L568.02,296.29 L568.26,296.29 L568.49,296.29 L568.72,296.29 L568.96,296.29 L569.19,296.29 L569.43,296.29 L569.66,296.29 L569.89,296.29 L570.13,296.29 L570.36,296.29 L570.59,296.29 L570.83,296.29 L571.06,296.29 L571.30,296.29 L571.53,296.29 L571.76,296.29 L572.00,296.29 L572.23,296.29 L572.47,296.29 L572.70,296.29" stroke="#fd3636" stroke-width="1.25" fill="none" stroke-linejoin="round"/>
<path d="M58.06,296.29 L58.29,296.29 L58.53,296.29 L58.76,296.29 L59.00,296.29 L59.23,296.29 L59.46,296.29 L59.70,296.29 L59.93,296.29 L60.17,296.29 L60.40,296.29 L60.63,296.29 L60.87,296.29 L61.10,296.29 L61.33,296.29 L61.57,296.29 L61.80,296.29 L62.04,296.29 L62.27,296.29 L62.50,296.29 L62.74,296.29 L62.97,296.29 L63.21,296.29 L63.44,296.29 L63.67,296.29 L63.91,296.29 L64.14,296.29 L64.38,296.29 L64.61,296.29 L64.84,296.29 L65.08,296.29 L65.31,296.29 L65.55,296.29 L65.78,296.29 L66.01,296.29 L66.25,296.29 L66.48,296.29 L66.72,296.29 L66.95,296.29 L67.18,296.29 L67.42,296.29 L67.65,296.29 L67.88,296.29 L68.12,296.29 L68.35,296.29 L68.59,296.29 L68.82,296.29 L69.05,296.29 L69.29,296.29 L69.52,296.29 L69.76,296.29 L69.99,296.29 L70.22,296.29 L70.46,296.29 L70.69,296.29 L70.93,296.29 L71.16,296.29 L71.39,296.29 L71.63,296.29 L71.86,296.29 L72.10,296.29 L72.33,296.29 L72.56,296.29 L72.80,296.29 L73.03,296.29 L73.27,296.29 L73.50,296.29 L73.73,296.29 L73.97,296.29 L74.20,296.29 L74.43,296.29 L74.67,296.29 L74.90,296.29 L75.14,296.29 L75.37,296.29 L75.60,296.29 L75.84,296.29 L76.07,296.29 L76.31,296.29 L76.54,296.29 L76.77,296.29 L77.01,296.29 L77.24,296.29 L77.48,296.29 L77.71,296.29 L77.94,296.29 L78.18,296.29 L78.41,296.29 L78.65,296.29 L78.88,296.29 L79.11,296.28 L79.35,296.28 L79.58,296.28 L79.82,296.28 L80.05,296.27 L80.28,296.27 L80.52,296.26 L80.75,296.26 L80.98,296.25 L81.22,296.24 L81.45,296.23 L81.69,296.22 L81.92,296.21 L82.15,296.20 L82.39,296.18 L82.62,296.16 L82.86,296.13 L83.09,296.11 L83.32,296.08 L83.56,296.04 L83.79,296.00 L84.03,295.95 L84.26,295.89 L84.49,295.83 L84.73,295.76 L84.96,295.68 L85.20,295.58 L85.43,295.48 L85.66,295.35 L85.90,295.22 L86.13,295.06 L86.37,294.88 L86.60,294.68 L86.83,294.46 L87.07,294.21 L87.30,293.93 L87.53,293.61 L87.77,293.26 L88.00,292.86 L88.24,292.42 L88.47,291.94 L88.70,291.40 L88.94,290.80 L89.17,290.14 L89.41,289.42 L89.64,288.62 L89.87,287.74 L90.11,286.77 L90.34,285.72 L90.58,284.57 L90.81,283.31 L91.04,281.95 L91.28,280.47 L91.51,278.86 L91.75,277.13 L91.98,275.26 L92.21,273.24 L92.45,271.07 L92.68,268.75 L92.92,266.26 L93.15,263.60 L93.38,260.77 L93.62,257.75 L93.85,254.55 L94.08,251.16 L94.32,247.57 L94.55,243.79 L94.79,239.81 L95.02,235.63 L95.25,231.25 L95.49,226.67 L95.72,221.90 L95.96,216.93 L96.19,211.77 L96.42,206.42 L96.66,200.90 L96.89,195.21 L97.13,189.36 L97.36,183.36 L97.59,177.23 L97.83,170.97 L98.06,164.60 L98.30,158.14 L98.53,151.61 L98.76,145.03 L99.00,138.41 L99.23,131.77 L99.47,125.15 L99.70,118.56 L99.93,112.02 L100.17,105.57 L100.40,99.22 L100.63,93.00 L100.87,86.93 L101.10,81.05 L101.34,75.37 L101.57,69.92 L101.80,64.73 L102.04,59.82 L102.27,55.21 L102.51,50.92 L102.74,46.97 L102.97,43.39 L103.21,40.18 L103.44,37.37 L103.68,34.96 L103.91,32.98 L104.14,31.43 L104.38,30.31 L104.61,29.64 L104.85,29.42 L105.08,29.68 L105.31,30.45 L105.55,31.74 L105.78,33.54 L106.02,35.84 L106.25,38.64 L106.48,41.94 L106.72,45.71 L106.95,49.96 L107.18,54.67 L107.42,59.82 L107.65,65.41 L107.89,71.42 L108.12,77.83 L108.35,84.63 L108.59,91.79 L108.82,99.29 L109.06,107.13 L109.29,115.27 L109.52,123.69 L109.76,132.37 L109.99,141.29 L110.23,150.42 L110.46,159.73 L110.69,169.21 L110.93,178.82 L111.16,188.55 L111.40,198.35 L111.63,208.22 L111.86,218.11 L112.10,228.00 L112.33,237.87 L112.57,247.69 L112.80,257.44 L113.03,267.07 L113.27,276.58 L113.50,285.93 L113.73,295.10 L113.97,304.06 L114.20,312.79 L114.44,321.27 L114.67,329.46 L114.90,337.36 L115.14,344.93 L115.37,352.17 L115.61,359.04 L115.84,365.52 L116.07,371.61 L116.31,377.29 L116.54,382.53 L116.78,387.33 L117.01,391.67 L117.24,395.54 L117.48,398.93 L117.71,401.83 L117.95,404.24 L118.18,406.14 L118.41,407.53 L118.65,408.40 L118.88,408.77 L119.12,408.64 L119.35,408.07 L119.58,407.07 L119.82,405.63 L120.05,403.78 L120.28,401.51 L120.52,398.84 L120.75,395.79 L120.99,392.35 L121.22,388.56 L121.45,384.43 L121.69,379.99 L121.92,375.24 L122.16,370.22 L122.39,364.95 L122.62,359.46 L122.86,353.77 L123.09,347.91 L123.33,341.90 L123.56,335.79 L123.79,329.60 L124.03,323.35 L124.26,317.08 L124.50,310.82 L124.73,304.60 L124.96,298.45 L125.20,292.40 L125.43,286.48 L125.66,280.72 L125.90,275.15 L126.13,269.78 L126.37,264.66 L126.60,259.80 L126.83,255.23 L127.07,250.97 L127.30,247.05 L127.54,243.47 L127.77,240.26 L128.00,237.43 L128.24,235.00 L128.47,232.98 L128.71,231.38 L128.94,230.21 L129.17,229.46 L129.41,229.16 L129.64,229.24 L129.88,229.60 L130.11,230.24 L130.34,231.15 L130.58,232.32 L130.81,233.76 L131.05,235.46 L131.28,237.40 L131.51,239.58 L131.75,241.99 L131.98,244.61 L132.21,247.43 L132.45,250.43 L132.68,253.61 L132.92,256.95 L133.15,260.42 L133.38,264.02 L133.62,267.72 L133.85,271.50 L134.09,275.35 L134.32,279.25 L134.55,283.17 L134.79,287.11 L135.02,291.03 L135.26,294.92 L135.49,298.76 L135.72,302.53 L135.96,306.21 L136.19,309.78 L136.43,313.23 L136.66,316.53 L136.89,319.68 L137.13,322.65 L137.36,325.43 L137.60,328.01 L137.83,330.37 L138.06,332.50 L138.30,334.39 L138.53,336.04 L138.76,337.43 L139.00,338.55 L139.23,339.41 L139.47,339.99 L139.70,340.30 L139.93,340.33 L140.17,340.13 L140.40,339.72 L140.64,339.10 L140.87,338.26 L141.10,337.22 L141.34,335.99 L141.57,334.56 L141.81,332.94 L142.04,331.16 L142.27,329.21 L142.51,327.11 L142.74,324.87 L142.98,322.50 L143.21,320.02 L143.44,317.44 L143.68,314.78 L143.91,312.06 L144.15,309.28 L144.38,306.47 L144.61,303.63 L144.85,300.80 L145.08,297.98 L145.31,295.20 L145.55,292.46 L145.78,289.79 L146.02,287.19 L146.25,284.69 L146.48,282.30 L146.72,280.03 L146.95,277.90 L147.19,275.92 L147.42,274.10 L147.65,272.45 L147.89,270.99 L148.12,269.71 L148.36,268.63 L148.59,267.76 L148.82,267.09 L149.06,266.63 L149.29,266.40 L149.53,266.37 L149.76,266.49 L149.99,266.74 L150.23,267.12 L150.46,267.64 L150.70,268.28 L150.93,269.04 L151.16,269.92 L151.40,270.92 L151.63,272.03 L151.86,273.24 L152.10,274.54 L152.33,275.94 L152.57,277.42 L152.80,278.97 L153.03,280.59 L153.27,282.27 L153.50,284.00 L153.74,285.77 L153.97,287.57 L154.20,289.39 L154.44,291.22 L154.67,293.06 L154.91,294.88 L155.14,296.69 L155.37,298.47 L155.61,300.22 L155.84,301.92 L156.08,303.57 L156.31,305.15 L156.54,306.66 L156.78,308.09 L157.01,309.43 L157.25,310.68 L157.48,311.83 L157.71,312.87 L157.95,313.80 L158.18,314.61 L158.41,315.30 L158.65,315.87 L158.88,316.30 L159.12,316.61 L159.35,316.78 L159.58,316.82 L159.82,316.76 L160.05,316.61 L160.29,316.37 L160.52,316.04 L160.75,315.62 L160.99,315.12 L161.22,314.54 L161.46,313.89 L161.69,313.16 L161.92,312.35 L162.16,311.48 L162.39,310.55 L162.63,309.56 L162.86,308.52 L163.09,307.43 L163.33,306.30 L163.56,305.14 L163.80,303.95 L164.03,302.73 L164.26,301.49 L164.50,300.25 L164.73,299.00 L164.96,297.76 L165.20,296.52 L165.43,295.30 L165.67,294.10 L165.90,292.93 L166.13,291.79 L166.37,290.70 L166.60,289.65 L166.84,288.65 L167.07,287.70 L167.30,286.82 L167.54,286.00 L167.77,285.26 L168.01,284.59 L168.24,283.99 L168.47,283.48 L168.71,283.04 L168.94,282.70 L169.18,282.44 L169.41,282.27 L169.64,282.19 L169.88,282.19 L170.11,282.27 L170.35,282.40 L170.58,282.61 L170.81,282.88 L171.05,283.21 L171.28,283.60 L171.51,284.05 L171.75,284.55 L171.98,285.11 L172.22,285.72 L172.45,286.38 L172.68,287.08 L172.92,287.81 L173.15,288.59 L173.39,289.40 L173.62,290.23 L173.85,291.09 L174.09,291.96 L174.32,292.85 L174.56,293.74 L174.79,294.64 L175.02,295.54 L175.26,296.43 L175.49,297.31 L175.73,298.17 L175.96,299.01 L176.19,299.83 L176.43,300.62 L176.66,301.37 L176.90,302.09 L177.13,302.76 L177.36,303.39 L177.60,303.97 L177.83,304.50 L178.06,304.97 L178.30,305.39 L178.53,305.74 L178.77,306.03 L179.00,306.26 L179.23,306.43 L179.47,306.53 L179.70,306.56 L179.94,306.54 L180.17,306.46 L180.40,306.35 L180.64,306.18 L180.87,305.97 L181.11,305.72 L181.34,305.42 L181.57,305.08 L181.81,304.71 L182.04,304.29 L182.28,303.84 L182.51,303.36 L182.74,302.85 L182.98,302.32 L183.21,301.76 L183.45,301.18 L183.68,300.58 L183.91,299.97 L184.15,299.35 L184.38,298.72 L184.61,298.09 L184.85,297.46 L185.08,296.84 L185.32,296.22 L185.55,295.62 L185.78,295.03 L186.02,294.46 L186.25,293.90 L186.49,293.38 L186.72,292.88 L186.95,292.41 L187.19,291.98 L187.42,291.58 L187.66,291.22 L187.89,290.89 L188.12,290.61 L188.36,290.38 L188.59,290.19 L188.83,290.04 L189.06,289.94 L189.29,289.89 L189.53,289.88 L189.76,289.91 L189.99,289.97 L190.23,290.06 L190.46,290.18 L190.70,290.34 L190.93,290.52 L191.16,290.73 L191.40,290.96 L191.63,291.22 L191.87,291.51 L192.10,291.82 L192.33,292.15 L192.57,292.50 L192.80,292.87 L193.04,293.25 L193.27,293.64 L193.50,294.05 L193.74,294.46 L193.97,294.89 L194.21,295.31 L194.44,295.74 L194.67,296.17 L194.91,296.59 L195.14,297.01 L195.38,297.42 L195.61,297.82 L195.84,298.21 L196.08,298.59 L196.31,298.95 L196.54,299.29 L196.78,299.61 L197.01,299.91 L197.25,300.19 L197.48,300.44 L197.71,300.67 L197.95,300.87 L198.18,301.04 L198.42,301.18 L198.65,301.28 L198.88,301.36 L199.12,301.41 L199.35,301.43 L199.59,301.42 L199.82,301.38 L200.05,301.32 L200.29,301.24 L200.52,301.14 L200.76,301.01 L200.99,300.87 L201.22,300.70 L201.46,300.52 L201.69,300.31 L201.93,300.09 L202.16,299.86 L202.39,299.61 L202.63,299.34 L202.86,299.07 L203.09,298.78 L203.33,298.49 L203.56,298.19 L203.80,297.89 L204.03,297.58 L204.26,297.27 L204.50,296.96 L204.73,296.66 L204.97,296.36 L205.20,296.06 L205.43,295.77 L205.67,295.49 L205.90,295.23 L206.14,294.97 L206.37,294.73 L206.60,294.50 L206.84,294.29 L207.07,294.10 L207.31,293.92 L207.54,293.77 L207.77,293.64 L208.01,293.53 L208.24,293.44 L208.48,293.37 L208.71,293.32 L208.94,293.30 L209.18,293.30 L209.41,293.32 L209.64,293.36 L209.88,293.41 L210.11,293.48 L210.35,293.56 L210.58,293.66 L210.81,293.77 L211.05,293.89 L211.28,294.03 L211.52,294.18 L211.75,294.35 L211.98,294.52 L212.22,294.70 L212.45,294.89 L212.69,295.09 L212.92,295.30 L213.15,295.50 L213.39,295.72 L213.62,295.93 L213.86,296.15 L214.09,296.36 L214.32,296.57 L214.56,296.78 L214.79,296.99 L215.03,297.19 L215.26,297.38 L215.49,297.57 L215.73,297.75 L215.96,297.91 L216.19,298.07 L216.43,298.21 L216.66,298.34 L216.90,298.46 L217.13,298.57 L217.36,298.66 L217.60,298.73 L217.83,298.79 L218.07,298.83 L218.30,298.85 L218.53,298.86 L218.77,298.85 L219.00,298.84 L219.24,298.80 L219.47,298.76 L219.70,298.70 L219.94,298.63 L220.17,298.55 L220.41,298.46 L220.64,298.36 L220.87,298.25 L221.11,298.13 L221.34,298.00 L221.58,297.86 L221.81,297.72 L222.04,297.57 L222.28,297.41 L222.51,297.25 L222.74,297.08 L222.98,296.91 L223.21,296.74 L223.45,296.57 L223.68,296.40 L223.91,296.23 L224.15,296.06 L224.38,295.90 L224.62,295.74 L224.85,295.58 L225.08,295.43 L225.32,295.28 L225.55,295.15 L225.79,295.02 L226.02,294.90 L226.25,294.78 L226.49,294.68 L226.72,294.59 L226.96,294.51 L227.19,294.44 L227.42,294.39 L227.66,294.34 L227.89,294.31 L228.13,294.29 L228.36,294.28 L228.59,294.29 L228.83,294.30 L229.06,294.32 L229.29,294.35 L229.53,294.39 L229.76,294.43 L230.00,294.49 L230.23,294.55 L230.46,294.61 L230.70,294.69 L230.93,294.77 L231.17,294.85 L231.40,294.94 L231.63,295.04 L231.87,295.14 L232.10,295.25 L232.34,295.36 L232.57,295.47 L232.80,295.58 L233.04,295.70 L233.27,295.81 L233.51,295.93 L233.74,296.05 L233.97,296.17 L234.21,296.28 L234.44,296.40 L234.68,296.51 L234.91,296.62 L235.14,296.72 L235.38,296.82 L235.61,296.92 L235.84,297.01 L236.08,297.10 L236.31,297.18 L236.55,297.25 L236.78,297.32 L237.01,297.38 L237.25,297.43 L237.48,297.47 L237.72,297.51 L237.95,297.54 L238.18,297.56 L238.42,297.57 L238.65,297.58 L238.89,297.57 L239.12,297.56 L239.35,297.55 L239.59,297.52 L239.82,297.50 L240.06,297.46 L240.29,297.42 L240.52,297.37 L240.76,297.32 L240.99,297.26 L241.23,297.19 L241.46,297.13 L241.69,297.05 L241.93,296.98 L242.16,296.90 L242.39,296.82 L242.63,296.73 L242.86,296.65 L243.10,296.56 L243.33,296.47 L243.56,296.38 L243.80,296.29 L244.03,296.20 L244.27,296.11 L244.50,296.03 L244.73,295.94 L244.97,295.86 L245.20,295.78 L245.44,295.71 L245.67,295.63 L245.90,295.57 L246.14,295.50 L246.37,295.44 L246.61,295.39 L246.84,295.34 L247.07,295.30 L247.31,295.27 L247.54,295.24 L247.78,295.21 L248.01,295.20 L248.24,295.19 L248.48,295.18 L248.71,295.19 L248.94,295.19 L249.18,295.21 L249.41,295.22 L249.65,295.24 L249.88,295.27 L250.11,295.30 L250.35,295.34 L250.58,295.38 L250.82,295.42 L251.05,295.47 L251.28,295.52 L251.52,295.57 L251.75,295.63 L251.99,295.69 L252.22,295.75 L252.45,295.82 L252.69,295.88 L252.92,295.95 L253.16,296.01 L253.39,296.08 L253.62,296.15 L253.86,296.21 L254.09,296.28 L254.32,296.35 L254.56,296.41 L254.79,296.47 L255.03,296.53 L255.26,296.59 L255.49,296.64 L255.73,296.69 L255.96,296.74 L256.20,296.78 L256.43,296.82 L256.66,296.86 L256.90,296.89 L257.13,296.92 L257.37,296.94 L257.60,296.96 L257.83,296.97 L258.07,296.98 L258.30,296.98 L258.54,296.98 L258.77,296.97 L259.00,296.96 L259.24,296.95 L259.47,296.93 L259.71,296.92 L259.94,296.89 L260.17,296.87 L260.41,296.84 L260.64,296.81 L260.87,296.77 L261.11,296.74 L261.34,296.70 L261.58,296.66 L261.81,296.62 L262.04,296.57 L262.28,296.53 L262.51,296.48 L262.75,296.43 L262.98,296.39 L263.21,296.34 L263.45,296.29 L263.68,296.24 L263.92,296.19 L264.15,296.15 L264.38,296.10 L264.62,296.06 L264.85,296.02 L265.09,295.98 L265.32,295.94 L265.55,295.90 L265.79,295.87 L266.02,295.84 L266.26,295.81 L266.49,295.78 L266.72,295.76 L266.96,295.74 L267.19,295.72 L267.42,295.71 L267.66,295.70 L267.89,295.70 L268.13,295.70 L268.36,295.70 L268.59,295.70 L268.83,295.71 L269.06,295.72 L269.30,295.73 L269.53,295.75 L269.76,295.76 L270.00,295.79 L270.23,295.81 L270.47,295.83 L270.70,295.86 L270.93,295.89 L271.17,295.92 L271.40,295.95 L271.64,295.99 L271.87,296.02 L272.10,296.06 L272.34,296.09 L272.57,296.13 L272.81,296.17 L273.04,296.21 L273.27,296.25 L273.51,296.29 L273.74,296.32 L273.97,296.36 L274.21,296.40 L274.44,296.43 L274.68,296.47 L274.91,296.50 L275.14,296.53 L275.38,296.56 L275.61,296.59 L275.85,296.61 L276.08,296.63 L276.31,296.65 L276.55,296.67 L276.78,296.69 L277.02,296.70 L277.25,296.71 L277.48,296.72 L277.72,296.72 L277.95,296.72 L278.19,296.72 L278.42,296.72 L278.65,296.71 L278.89,296.71 L279.12,296.70 L279.36,296.68 L279.59,296.67 L279.82,296.66 L280.06,296.64 L280.29,296.62 L280.52,296.60 L280.76,296.58 L280.99,296.55 L281.23,296.53 L281.46,296.50 L281.69,296.48 L281.93,296.45 L282.16,296.42 L282.40,296.39 L282.63,296.37 L282.86,296.34 L283.10,296.31 L283.33,296.28 L283.57,296.25 L283.80,296.22 L284.03,296.20 L284.27,296.17 L284.50,296.15 L284.74,296.12 L284.97,296.10 L285.20,296.08 L285.44,296.06 L285.67,296.04 L285.91,296.02 L286.14,296.00 L286.37,295.99 L286.61,295.98 L286.84,295.97 L287.07,295.96 L287.31,295.96 L287.54,295.95 L287.78,295.95 L288.01,295.95 L288.24,295.96 L288.48,295.96 L288.71,295.96 L288.95,295.97 L289.18,295.98 L289.41,295.99 L289.65,296.00 L289.88,296.01 L290.12,296.03 L290.35,296.04 L290.58,296.06 L290.82,296.07 L291.05,296.09 L291.29,296.11 L291.52,296.13 L291.75,296.15 L291.99,296.17 L292.22,296.19 L292.46,296.21 L292.69,296.23 L292.92,296.25 L293.16,296.27 L293.39,296.29 L293.62,296.31 L293.86,296.33 L294.09,296.35 L294.33,296.37 L294.56,296.39 L294.79,296.40 L295.03,296.42 L295.26,296.43 L295.50,296.45 L295.73,296.46 L295.96,296.47 L296.20,296.48 L296.43,296.49 L296.67,296.50 L296.90,296.50 L297.13,296.51 L297.37,296.51 L297.60,296.51 L297.84,296.51 L298.07,296.51 L298.30,296.50 L298.54,296.50 L298.77,296.50 L299.01,296.49 L299.24,296.49 L299.47,296.48 L299.71,296.47 L299.94,296.46 L300.17,296.45 L300.41,296.44 L300.64,296.43 L300.88,296.42 L301.11,296.41 L301.34,296.40 L301.58,296.39 L301.81,296.38 L302.05,296.36 L302.28,296.35 L302.51,296.34 L302.75,296.32 L302.98,296.31 L303.22,296.30 L303.45,296.29 L303.68,296.28 L303.92,296.26 L304.15,296.25 L304.39,296.24 L304.62,296.23 L304.85,296.22 L305.09,296.21 L305.32,296.20 L305.56,296.20 L305.79,296.19 L306.02,296.18 L306.26,296.18 L306.49,296.17 L306.72,296.17 L306.96,296.17 L307.19,296.17 L307.43,296.17 L307.66,296.17 L307.89,296.17 L308.13,296.17 L308.36,296.17 L308.60,296.17 L308.83,296.17 L309.06,296.17 L309.30,296.18 L309.53,296.18 L309.77,296.18 L310.00,296.19 L310.23,296.19 L310.47,296.19 L310.70,296.20 L310.94,296.20 L311.17,296.20 L311.40,296.21 L311.64,296.21 L311.87,296.22 L312.11,296.22 L312.34,296.23 L312.57,296.23 L312.81,296.24 L313.04,296.24 L313.27,296.24 L313.51,296.25 L313.74,296.25 L313.98,296.26 L314.21,296.26 L314.44,296.27 L314.68,296.27 L314.91,296.27 L315.15,296.28 L315.38,296.28 L315.61,296.28 L315.85,296.28 L316.08,296.29 L316.32,296.29 L316.55,296.29 L316.78,296.29 L317.02,296.29 L317.25,296.29 L317.49,296.29 L317.72,296.29 L317.95,296.29 L318.19,296.29 L318.42,296.29 L318.65,296.29 L318.89,296.29 L319.12,296.29 L319.36,296.29 L319.59,296.29 L319.82,296.29 L320.06,296.29 L320.29,296.29 L320.53,296.29 L320.76,296.29 L320.99,296.29 L321.23,296.29 L321.46,296.29 L321.70,296.29 L321.93,296.29 L322.16,296.29 L322.40,296.29 L322.63,296.29 L322.87,296.29 L323.10,296.29 L323.33,296.29 L323.57,296.29 L323.80,296.29 L324.04,296.29 L324.27,296.29 L324.50,296.29 L324.74,296.29 L324.97,296.29 L325.20,296.29 L325.44,296.29 L325.67,296.29 L325.91,296.29 L326.14,296.29 L326.37,296.29 L326.61,296.29 L326.84,296.29 L327.08,296.29 L327.31,296.29 L327.54,296.29 L327.78,296.29 L328.01,296.29 L328.25,296.29 L328.48,296.29 L328.71,296.29 L328.95,296.29 L329.18,296.29 L329.42,296.29 L329.65,296.29 L329.88,296.29 L330.12,296.29 L330.35,296.29 L330.59,296.29 L330.82,296.29 L331.05,296.29 L331.29,296.29 L331.52,296.29 L331.75,296.29 L331.99,296.29 L332.22,296.29 L332.46,296.29 L332.69,296.29 L332.92,296.29 L333.16,296.29 L333.39,296.29 L333.63,296.29 L333.86,296.29 L334.09,296.29 L334.33,296.29 L334.56,296.29 L334.80,296.29 L335.03,296.29 L335.26,296.29 L335.50,296.29 L335.73,296.29 L335.97,296.29 L336.20,296.29 L336.43,296.29 L336.67,296.29 L336.90,296.29 L337.14,296.29 L337.37,296.29 L337.60,296.29 L337.84,296.29 L338.07,296.29 L338.30,296.29 L338.54,296.29 L338.77,296.29 L339.01,296.29 L339.24,296.29 L339.47,296.29 L339.71,296.29 L339.94,296.29 L340.18,296.29 L340.41,296.29 L340.64,296.29 L340.88,296.29 L341.11,296.29 L341.35,296.29 L341.58,296.29 L341.81,296.29 L342.05,296.29 L342.28,296.29 L342.52,296.29 L342.75,296.29 L342.98,296.29 L343.22,296.29 L343.45,296.29 L343.69,296.29 L343.92,296.29 L344.15,296.29 L344.39,296.29 L344.62,296.29 L344.85,296.29 L345.09,296.29 L345.32,296.29 L345.56,296.29 L345.79,296.29 L346.02,296.29 L346.26,296.29 L346.49,296.29 L346.73,296.29 L346.96,296.29 L347.19,296.29 L347.43,296.29 L347.66,296.29 L347.90,296.29 L348.13,296.29 L348.36,296.29 L348.60,296.29 L348.83,296.29 L349.07,296.29 L349.30,296.29 L349.53,296.29 L349.77,296.29 L350.00,296.29 L350.24,296.29 L350.47,296.29 L350.70,296.29 L350.94,296.29 L351.17,296.29 L351.40,296.29 L351.64,296.29 L351.87,296.29 L352.11,296.29 L352.34,296.29 L352.57,296.29 L352.81,296.29 L353.04,296.29 L353.28,296.29 L353.51,296.29 L353.74,296.29 L353.98,296.29 L354.21,296.29 L354.45,296.29 L354.68,296.29 L354.91,296.29 L355.15,296.29 L355.38,296.29 L355.62,296.29 L355.85,296.29 L356.08,296.29 L356.32,296.29 L356.55,296.29 L356.79,296.29 L357.02,296.29 L357.25,296.29 L357.49,296.29 L357.72,296.29 L357.95,296.29 L358.19,296.29 L358.42,296.29 L358.66,296.29 L358.89,296.29 L359.12,296.29 L359.36,296.29 L359.59,296.29 L359.83,296.29 L360.06,296.29 L360.29,296.29 L360.53,296.29 L360.76,296.29 L361.00,296.29 L361.23,296.29 L361.46,296.29 L361.70,296.29 L361.93,296.29 L362.17,296.29 L362.40,296.29 L362.63,296.29 L362.87,296.29 L363.10,296.29 L363.34,296.29 L363.57,296.29 L363.80,296.29 L364.04,296.29 L364.27,296.29 L364.50,296.29 L364.74,296.29 L364.97,296.29 L365.21,296.29 L365.44,296.29 L365.67,296.29 L365.91,296.29 L366.14,296.29 L366.38,296.29 L366.61,296.29 L366.84,296.29 L367.08,296.29 L367.31,296.29 L367.55,296.29 L367.78,296.29 L368.01,296.29 L368.25,296.29 L368.48,296.29 L368.72,296.29 L368.95,296.29 L369.18,296.29 L369.42,296.29 L369.65,296.29 L369.89,296.29 L370.12,296.29 L370.35,296.29 L370.59,296.29 L370.82,296.29 L371.05,296.29 L371.29,296.29 L371.52,296.29 L371.76,296.29 L371.99,296.29 L372.22,296.29 L372.46,296.29 L372.69,296.29 L372.93,296.29 L373.16,296.29 L373.39,296.29 L373.63,296.29 L373.86,296.29 L374.10,296.29 L374.33,296.29 L374.56,296.29 L374.80,296.29 L375.03,296.29 L375.27,296.29 L375.50,296.29 L375.73,296.29 L375.97,296.29 L376.20,296.29 L376.44,296.29 L376.67,296.29 L376.90,296.29 L377.14,296.29 L377.37,296.29 L377.60,296.29 L377.84,296.29 L378.07,296.29 L378.31,296.29 L378.54,296.29 L378.77,296.29 L379.01,296.29 L379.24,296.29 L379.48,296.29 L379.71,296.29 L379.94,296.29 L380.18,296.29 L380.41,296.29 L380.65,296.29 L380.88,296.29 L381.11,296.29 L381.35,296.29 L381.58,296.29 L381.82,296.29 L382.05,296.29 L382.28,296.29 L382.52,296.29 L382.75,296.29 L382.98,296.29 L383.22,296.29 L383.45,296.29 L383.69,296.29 L383.92,296.29 L384.15,296.29 L384.39,296.29 L384.62,296.29 L384.86,296.29 L385.09,296.29 L385.32,296.29 L385.56,296.29 L385.79,296.29 L386.03,296.29 L386.26,296.29 L386.49,296.29 L386.73,296.29 L386.96,296.29 L387.20,296.29 L387.43,296.29 L387.66,296.29 L387.90,296.29 L388.13,296.29 L388.37,296.29 L388.60,296.29 L388.83,296.29 L389.07,296.29 L389.30,296.29 L389.53,296.29 L389.77,296.29 L390.00,296.29 L390.24,296.29 L390.47,296.29 L390.70,296.29 L390.94,296.29 L391.17,296.29 L391.41,296.29 L391.64,296.29 L391.87,296.29 L392.11,296.29 L392.34,296.29 L392.58,296.29 L392.81,296.29 L393.04,296.29 L393.28,296.29 L393.51,296.29 L393.75,296.29 L393.98,296.29 L394.21,296.29 L394.45,296.29 L394.68,296.29 L394.92,296.29 L395.15,296.29 L395.38,296.29 L395.62,296.29 L395.85,296.29 L396.08,296.29 L396.32,296.29 L396.55,296.29 L396.79,296.29 L397.02,296.29 L397.25,296.29 L397.49,296.29 L397.72,296.29 L397.96,296.29 L398.19,296.29 L398.42,296.29 L398.66,296.29 L398.89,296.29 L399.13,296.29 L399.36,296.29 L399.59,296.29 L399.83,296.29 L400.06,296.29 L400.30,296.29 L400.53,296.29 L400.76,296.29 L401.00,296.29 L401.23,296.29 L401.47,296.29 L401.70,296.29 L401.93,296.29 L402.17,296.29 L402.40,296.29 L402.63,296.29 L402.87,296.29 L403.10,296.29 L403.34,296.29 L403.57,296.29 L403.80,296.29 L404.04,296.29 L404.27,296.29 L404.51,296.29 L404.74,296.29 L404.97,296.29 L405.21,296.29 L405.44,296.29 L405.68,296.29 L405.91,296.29 L406.14,296.29 L406.38,296.29 L406.61,296.29 L406.85,296.29 L407.08,296.29 L407.31,296.29 L407.55,296.29 L407.78,296.29 L408.02,296.29 L408.25,296.29 L408.48,296.29 L408.72,296.29 L408.95,296.29 L409.18,296.29 L409.42,296.29 L409.65,296.29 L409.89,296.29 L410.12,296.29 L410.35,296.29 L410.59,296.29 L410.82,296.29 L411.06,296.29 L411.29,296.29 L411.52,296.29 L411.76,296.29 L411.99,296.29 L412.23,296.29 L412.46,296.29 L412.69,296.29 L412.93,296.29 L413.16,296.29 L413.40,296.29 L413.63,296.29 L413.86,296.29 L414.10,296.29 L414.33,296.29 L414.57,296.29 L414.80,296.29 L415.03,296.29 L415.27,296.29 L415.50,296.29 L415.73,296.29 L415.97,296.29 L416.20,296.29 L416.44,296.29 L416.67,296.29 L416.90,296.29 L417.14,296.29 L417.37,296.29 L417.61,296.29 L417.84,296.29 L418.07,296.29 L418.31,296.29 L418.54,296.29 L418.78,296.29 L419.01,296.29 L419.24,296.29 L419.48,296.29 L419.71,296.29 L419.95,296.29 L420.18,296.29 L420.41,296.29 L420.65,296.29 L420.88,296.29 L421.12,296.29 L421.35,296.29 L421.58,296.29 L421.82,296.29 L422.05,296.29 L422.28,296.29 L422.52,296.29 L422.75,296.29 L422.99,296.29 L423.22,296.29 L423.45,296.29 L423.69,296.29 L423.92,296.29 L424.16,296.29 L424.39,296.29 L424.62,296.29 L424.86,296.29 L425.09,296.29 L425.33,296.29 L425.56,296.29 L425.79,296.29 L426.03,296.29 L426.26,296.29 L426.50,296.29 L426.73,296.29 L426.96,296.29 L427.20,296.29 L427.43,296.29 L427.67,296.29 L427.90,296.29 L428.13,296.29 L428.37,296.29 L428.60,296.29 L428.83,296.29 L429.07,296.29 L429.30,296.29 L429.54,296.29 L429.77,296.29 L430.00,296.29 L430.24,296.29 L430.47,296.29 L430.71,296.29 L430.94,296.29 L431.17,296.29 L431.41,296.29 L431.64,296.29 L431.88,296.29 L432.11,296.29 L432.34,296.29 L432.58,296.29 L432.81,296.29 L433.05,296.29 L433.28,296.29 L433.51,296.29 L433.75,296.29 L433.98,296.29 L434.22,296.29 L434.45,296.29 L434.68,296.29 L434.92,296.29 L435.15,296.29 L435.38,296.29 L435.62,296.29 L435.85,296.29 L436.09,296.29 L436.32,296.29 L436.55,296.29 L436.79,296.29 L437.02,296.29 L437.26,296.29 L437.49,296.29 L437.72,296.29 L437.96,296.29 L438.19,296.29 L438.43,296.29 L438.66,296.29 L438.89,296.29 L439.13,296.29 L439.36,296.29 L439.60,296.29 L439.83,296.29 L440.06,296.29 L440.30,296.29 L440.53,296.29 L440.77,296.29 L441.00,296.29 L441.23,296.29 L441.47,296.29 L441.70,296.29 L441.93,296.29 L442.17,296.29 L442.40,296.29 L442.64,296.29 L442.87,296.29 L443.10,296.29 L443.34,296.29 L443.57,296.29 L443.81,296.29 L444.04,296.29 L444.27,296.29 L444.51,296.29 L444.74,296.29 L444.98,296.29 L445.21,296.29 L445.44,296.29 L445.68,296.29 L445.91,296.29 L446.15,296.29 L446.38,296.29 L446.61,296.29 L446.85,296.29 L447.08,296.29 L447.31,296.29 L447.55,296.29 L447.78,296.29 L448.02,296.29 L448.25,296.29 L448.48,296.29 L448.72,296.29 L448.95,296.29 L449.19,296.29 L449.42,296.29 L449.65,296.29 L449.89,296.29 L450.12,296.29 L450.36,296.29 L450.59,296.29 L450.82,296.29 L451.06,296.29 L451.29,296.29 L451.53,296.29 L451.76,296.29 L451.99,296.29 L452.23,296.29 L452.46,296.29 L452.70,296.29 L452.93,296.29 L453.16,296.29 L453.40,296.29 L453.63,296.29 L453.86,296.29 L454.10,296.29 L454.33,296.29 L454.57,296.29 L454.80,296.29 L455.03,296.29 L455.27,296.29 L455.50,296.29 L455.74,296.29 L455.97,296.29 L456.20,296.29 L456.44,296.29 L456.67,296.29 L456.91,296.29 L457.14,296.29 L457.37,296.29 L457.61,296.29 L457.84,296.29 L458.08,296.29 L458.31,296.29 L458.54,296.29 L458.78,296.29 L459.01,296.29 L459.25,296.29 L459.48,296.29 L459.71,296.29 L459.95,296.29 L460.18,296.29 L460.41,296.29 L460.65,296.29 L460.88,296.29 L461.12,296.29 L461.35,296.29 L461.58,296.29 L461.82,296.29 L462.05,296.29 L462.29,296.29 L462.52,296.29 L462.75,296.29 L462.99,296.29 L463.22,296.29 L463.46,296.29 L463.69,296.29 L463.92,296.29 L464.16,296.29 L464.39,296.29 L464.63,296.29 L464.86,296.29 L465.09,296.29 L465.33,296.29 L465.56,296.29 L465.80,296.29 L466.03,296.29 L466.26,296.29 L466.50,296.29 L466.73,296.29 L466.96,296.29 L467.20,296.29 L467.43,296.29 L467.67,296.29 L467.90,296.29 L468.13,296.29 L468.37,296.29 L468.60,296.29 L468.84,296.29 L469.07,296.29 L469.30,296.29 L469.54,296.29 L469.77,296.29 L470.01,296.29 L470.24,296.29 L470.47,296.29 L470.71,296.29 L470.94,296.29 L471.18,296.29 L471.41,296.29 L471.64,296.29 L471.88,296.29 L472.11,296.29 L472.35,296.29 L472.58,296.29 L472.81,296.29 L473.05,296.29 L473.28,296.29 L473.51,296.29 L473.75,296.29 L473.98,296.29 L474.22,296.29 L474.45,296.29 L474.68,296.29 L474.92,296.29 L475.15,296.29 L475.39,296.29 L475.62,296.29 L475.85,296.29 L476.09,296.29 L476.32,296.29 L476.56,296.29 L476.79,296.29 L477.02,296.29 L477.26,296.29 L477.49,296.29 L477.73,296.29 L477.96,296.29 L478.19,296.29 L478.43,296.29 L478.66,296.29 L478.90,296.29 L479.13,296.29 L479.36,296.29 L479.60,296.29 L479.83,296.29 L480.06,296.29 L480.30,296.29 L480.53,296.29 L480.77,296.29 L481.00,296.29 L481.23,296.29 L481.47,296.29 L481.70,296.29 L481.94,296.29 L482.17,296.29 L482.40,296.29 L482.64,296.29 L482.87,296.29 L483.11,296.29 L483.34,296.29 L483.57,296.29 L483.81,296.29 L484.04,296.29 L484.28,296.29 L484.51,296.29 L484.74,296.29 L484.98,296.29 L485.21,296.29 L485.45,296.29 L485.68,296.29 L485.91,296.29 L486.15,296.29 L486.38,296.29 L486.61,296.29 L486.85,296.29 L487.08,296.29 L487.32,296.29 L487.55,296.29 L487.78,296.29 L488.02,296.29 L488.25,296.29 L488.49,296.29 L488.72,296.29 L488.95,296.29 L489.19,296.29 L489.42,296.29 L489.66,296.29 L489.89,296.29 L490.12,296.29 L490.36,296.29 L490.59,296.29 L490.83,296.29 L491.06,296.29 L491.29,296.29 L491.53,296.29 L491.76,296.29 L492.00,296.29 L492.23,296.29 L492.46,296.29 L492.70,296.29 L492.93,296.29 L493.16,296.29 L493.40,296.29 L493.63,296.29 L493.87,296.29 L494.10,296.29 L494.33,296.29 L494.57,296.29 L494.80,296.29 L495.04,296.29 L495.27,296.29 L495.50,296.29 L495.74,296.29 L495.97,296.29 L496.21,296.29 L496.44,296.29 L496.67,296.29 L496.91,296.29 L497.14,296.29 L497.38,296.29 L497.61,296.29 L497.84,296.29 L498.08,296.29 L498.31,296.29 L498.55,296.29 L498.78,296.29 L499.01,296.29 L499.25,296.29 L499.48,296.29 L499.71,296.29 L499.95,296.29 L500.18,296.29 L500.42,296.29 L500.65,296.29 L500.88,296.29 L501.12,296.29 L501.35,296.29 L501.59,296.29 L501.82,296.29 L502.05,296.29 L502.29,296.29 L502.52,296.29 L502.76,296.29 L502.99,296.29 L503.22,296.29 L503.46,296.29 L503.69,296.29 L503.93,296.29 L504.16,296.29 L504.39,296.29 L504.63,296.29 L504.86,296.29 L505.10,296.29 L505.33,296.29 L505.56,296.29 L505.80,296.29 L506.03,296.29 L506.26,296.29 L506.50,296.29 L506.73,296.29 L506.97,296.29 L507.20,296.29 L507.43,296.29 L507.67,296.29 L507.90,296.29 L508.14,296.29 L508.37,296.29 L508.60,296.29 L508.84,296.29 L509.07,296.29 L509.31,296.29 L509.54,296.29 L509.77,296.29 L510.01,296.29 L510.24,296.29 L510.48,296.29 L510.71,296.29 L510.94,296.29 L511.18,296.29 L511.41,296.29 L511.64,296.29 L511.88,296.29 L512.11,296.29 L512.35,296.29 L512.58,296.29 L512.81,296.29 L513.05,296.29 L513.28,296.29 L513.52,296.29 L513.75,296.29 L513.98,296.29 L514.22,296.29 L514.45,296.29 L514.69,296.29 L514.92,296.29 L515.15,296.29 L515.39,296.29 L515.62,296.29 L515.86,296.29 L516.09,296.29 L516.32,296.29 L516.56,296.29 L516.79,296.29 L517.03,296.29 L517.26,296.29 L517.49,296.29 L517.73,296.29 L517.96,296.29 L518.19,296.29 L518.43,296.29 L518.66,296.29 L518.90,296.29 L519.13,296.29 L519.36,296.29 L519.60,296.29 L519.83,296.29 L520.07,296.29 L520.30,296.29 L520.53,296.29 L520.77,296.29 L521.00,296.29 L521.24,296.29 L521.47,296.29 L521.70,296.29 L521.94,296.29 L522.17,296.29 L522.41,296.29 L522.64,296.29 L522.87,296.29 L523.11,296.29 L523.34,296.29 L523.58,296.29 L523.81,296.29 L524.04,296.29 L524.28,296.29 L524.51,296.29 L524.74,296.29 L524.98,296.29 L525.21,296.29 L525.45,296.29 L525.68,296.29 L525.91,296.29 L526.15,296.29 L526.38,296.29 L526.62,296.29 L526.85,296.29 L527.08,296.29 L527.32,296.29 L527.55,296.29 L527.79,296.29 L528.02,296.29 L528.25,296.29 L528.49,296.29 L528.72,296.29 L528.96,296.29 L529.19,296.29 L529.42,296.29 L529.66,296.29 L529.89,296.29 L530.13,296.29 L530.36,296.29 L530.59,296.29 L530.83,296.29 L531.06,296.29 L531.29,296.29 L531.53,296.29 L531.76,296.29 L532.00,296.29 L532.23,296.29 L532.46,296.29 L532.70,296.29 L532.93,296.29 L533.17,296.29 L533.40,296.29 L533.63,296.29 L533.87,296.29 L534.10,296.29 L534.34,296.29 L534.57,296.29 L534.80,296.29 L535.04,296.29 L535.27,296.29 L535.51,296.29 L535.74,296.29 L535.97,296.29 L536.21,296.29 L536.44,296.29 L536.68,296.29 L536.91,296.29 L537.14,296.29 L537.38,296.29 L537.61,296.29 L537.84,296.29 L538.08,296.29 L538.31,296.29 L538.55,296.29 L538.78,296.29 L539.01,296.29 L539.25,296.29 L539.48,296.29 L539.72,296.29 L539.95,296.29 L540.18,296.29 L540.42,296.29 L540.65,296.29 L540.89,296.29 L541.12,296.29 L541.35,296.29 L541.59,296.29 L541.82,296.29 L542.06,296.29 L542.29,296.29 L542.52,296.29 L542.76,296.29 L542.99,296.29 L543.23,296.29 L543.46,296.29 L543.69,296.29 L543.93,296.29 L544.16,296.29 L544.39,296.29 L544.63,296.29 L544.86,296.29 L545.10,296.29 L545.33,296.29 L545.56,296.29 L545.80,296.29 L546.03,296.29 L546.27,296.29 L546.50,296.29 L546.73,296.29 L546.97,296.29 L547.20,296.29 L547.44,296.29 L547.67,296.29 L547.90,296.29 L548.14,296.29 L548.37,296.29 L548.61,296.29 L548.84,296.29 L549.07,296.29 L549.31,296.29 L549.54,296.29 L549.78,296.29 L550.01,296.29 L550.24,296.29 L550.48,296.29 L550.71,296.29 L550.94,296.29 L551.18,296.29 L551.41,296.29 L551.65,296.29 L551.88,296.29 L552.11,296.29 L552.35,296.29 L552.58,296.29 L552.82,296.29 L553.05,296.29 L553.28,296.29 L553.52,296.29 L553.75,296.29 L553.99,296.29 L554.22,296.29 L554.45,296.29 L554.69,296.29 L554.92,296.29 L555.16,296.29 L555.39,296.29 L555.62,296.29 L555.86,296.29 L556.09,296.29 L556.33,296.29 L556.56,296.29 L556.79,296.29 L557.03,296.29 L557.26,296.29 L557.49,296.29 L557.73,296.29 L557.96,296.29 L558.20,296.29 L558.43,296.29 L558.66,296.29 L558.90,296.29 L559.13,296.29 L559.37,296.29 L559.60,296.29 L559.83,296.29 L560.07,296.29 L560.30,296.29 L560.54,296.29 L560.77,296.29 L561.00,296.29 L561.24,296.29 L561.47,296.29 L561.71,296.29 L561.94,296.29 L562.17,296.29 L562.41,296.29 L562.64,296.29 L562.88,296.29 L563.11,296.29 L563.34,296.29 L563.58,296.29 L563.81,296.29 L564.04,296.29 L564.28,296.29 L564.51,296.29 L564.75,296.29 L564.98,296.29 L565.21,296.29 L565.45,296.29 L565.68,296.29 L565.92,296.29 L566.15,296.29 L566.38,296.29 L566.62,296.29 L566.85,296.29 L567.09,296.29 L567.32,296.29 L567.55,296.29 L567.79,296.29 L568.02,296.29 L568.26,296.29 L568.49,296.29 L568.72,296.29 L568.96,296.29 L569.19,296.29 L569.43,296.29 L569.66,296.29 L569.89,296.29 L570.13,296.29 L570.36,296.29 L570.59,296.29 L570.83,296.29 L571.06,296.29 L571.30,296.29 L571.53,296.29 L571.76,296.29 L572.00,296.29 L572.23,296.29 L572.47,296.29 L572.70,296.29" stroke="#06823d" stroke-width="2.75" fill="none" stroke-linejoin="round"/>
<rect x="426" y="29.5" width="135.5" height="32" stroke="#262626" stroke-width="1.5" fill="#fff"/>
<path d="M432.5,38.5 H467.5" stroke="#fd3636" stroke-width="1.25" />
<path d="M432.5,53 H467.5" stroke="#06823d" stroke-width="3" />
<g class="t">
<text x="471.2" y="42.0" font-size="9.3" style="fill:#333;stroke:#333;stroke-width:0.3px" textLength="79.6" lengthAdjust="spacingAndGlyphs">DAC oversampling</text>
<text x="471.2" y="57.3" font-size="9.3" style="fill:#333;stroke:#333;stroke-width:0.3px" textLength="51" lengthAdjust="spacingAndGlyphs">QRONO d2a</text>
<text x="44.2" y="429.60" font-size="11.0" text-anchor="end" textLength="16.4" lengthAdjust="spacingAndGlyphs">-0.0</text>
<text x="52.2" y="429.60" font-size="11.0" text-anchor="end" textLength="5.6" lengthAdjust="spacingAndGlyphs">3</text>
<text x="44.2" y="386.83" font-size="11.0" text-anchor="end" textLength="16.4" lengthAdjust="spacingAndGlyphs">-0.0</text>
<text x="52.2" y="386.83" font-size="11.0" text-anchor="end" textLength="5.6" lengthAdjust="spacingAndGlyphs">2</text>
<text x="44.2" y="344.06" font-size="11.0" text-anchor="end" textLength="16.4" lengthAdjust="spacingAndGlyphs">-0.0</text>
<text x="52.2" y="344.06" font-size="11.0" text-anchor="end" textLength="5.6" lengthAdjust="spacingAndGlyphs">1</text>
<text x="52.2" y="301.29" font-size="11.0" text-anchor="end">0</text>
<text x="50.9" y="258.03" font-size="11.0" text-anchor="end" textLength="19.9" lengthAdjust="spacingAndGlyphs">0.01</text>
<text x="50.9" y="215.26" font-size="11.0" text-anchor="end" textLength="19.9" lengthAdjust="spacingAndGlyphs">0.02</text>
<text x="50.9" y="172.49" font-size="11.0" text-anchor="end" textLength="19.9" lengthAdjust="spacingAndGlyphs">0.03</text>
<text x="50.9" y="129.72" font-size="11.0" text-anchor="end" textLength="19.9" lengthAdjust="spacingAndGlyphs">0.04</text>
<text x="50.9" y="86.95" font-size="11.0" text-anchor="end" textLength="19.9" lengthAdjust="spacingAndGlyphs">0.05</text>
<text x="50.9" y="44.18" font-size="11.0" text-anchor="end" textLength="19.9" lengthAdjust="spacingAndGlyphs">0.06</text>
<text x="56.76" y="441.4" font-size="11.0" text-anchor="middle" textLength="20.32" lengthAdjust="spacingAndGlyphs">-100</text>
<text x="104.15" y="441.4" font-size="11.0" text-anchor="middle" textLength="5.64" lengthAdjust="spacingAndGlyphs">0</text>
<text x="150.93" y="441.4" font-size="11.0" text-anchor="middle" textLength="16.92" lengthAdjust="spacingAndGlyphs">100</text>
<text x="197.72" y="441.4" font-size="11.0" text-anchor="middle" textLength="16.92" lengthAdjust="spacingAndGlyphs">200</text>
<text x="244.50" y="441.4" font-size="11.0" text-anchor="middle" textLength="16.92" lengthAdjust="spacingAndGlyphs">300</text>
<text x="291.29" y="441.4" font-size="11.0" text-anchor="middle" textLength="16.92" lengthAdjust="spacingAndGlyphs">400</text>
<text x="338.07" y="441.4" font-size="11.0" text-anchor="middle" textLength="16.92" lengthAdjust="spacingAndGlyphs">500</text>
<text x="384.86" y="441.4" font-size="11.0" text-anchor="middle" textLength="16.92" lengthAdjust="spacingAndGlyphs">600</text>
<text x="431.64" y="441.4" font-size="11.0" text-anchor="middle" textLength="16.92" lengthAdjust="spacingAndGlyphs">700</text>
<text x="478.43" y="441.4" font-size="11.0" text-anchor="middle" textLength="16.92" lengthAdjust="spacingAndGlyphs">800</text>
<text x="525.21" y="441.4" font-size="11.0" text-anchor="middle" textLength="16.92" lengthAdjust="spacingAndGlyphs">900</text>
<text x="572.00" y="441.4" font-size="11.0" text-anchor="middle" textLength="22.56" lengthAdjust="spacingAndGlyphs">1000</text>
<text x="312" y="459.2" font-size="12" text-anchor="middle" textLength="115.5" lengthAdjust="spacingAndGlyphs">time in microseconds</text>
<text transform="translate(19.5,221.2) rotate(-90)" font-size="12" text-anchor="middle" textLength="55.5" lengthAdjust="spacingAndGlyphs">amplitude</text>
</g>
</svg></body></html>
